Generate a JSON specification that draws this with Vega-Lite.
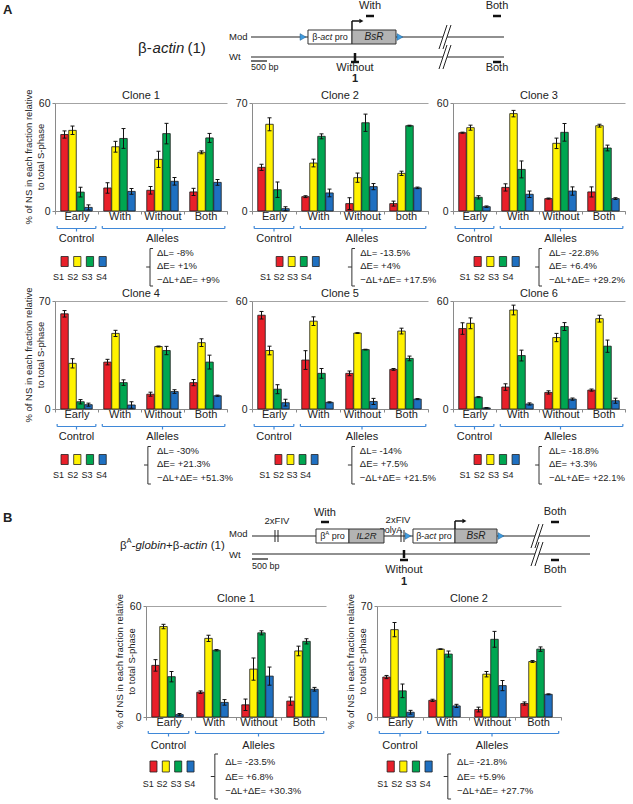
{
"$schema":"https://vega.github.io/schema/vega-lite/v6.json",
"padding":0,
"background":"white",
"config":{
 "font":"Liberation Sans",
 "view":{"stroke":null},
 "axis":{"labelFont":"Liberation Sans","titleFont":"Liberation Sans","labelFontSize":10.5,"titleFontSize":10.5,"titleFontWeight":"normal","labelColor":"#222222","titleColor":"#222222","domainColor":"#8a8a8a","tickColor":"#8a8a8a","gridColor":"#a3a3a3","tickSize":3,"labelPadding":2,"titlePadding":4},
 "title":{"font":"Liberation Sans","fontSize":11,"fontWeight":"normal","offset":-3,"color":"#222222","frame":"group"},
 "text":{"font":"Liberation Sans","color":"#222222"},
 "rule":{"color":"#3f88d8"}
},
"datasets":{
 "bars":[
{"clone":"A1","group":"Early","phase":"S1","value":42.5,"lo":40.5,"hi":44.5},
{"clone":"A1","group":"Early","phase":"S2","value":44.8,"lo":42.5,"hi":47.2},
{"clone":"A1","group":"Early","phase":"S3","value":10.5,"lo":7.8,"hi":13.2},
{"clone":"A1","group":"Early","phase":"S4","value":2,"lo":0.6,"hi":3.4},
{"clone":"A1","group":"With","phase":"S1","value":12.8,"lo":9.9,"hi":15.7},
{"clone":"A1","group":"With","phase":"S2","value":35.7,"lo":32.7,"hi":38.7},
{"clone":"A1","group":"With","phase":"S3","value":40.3,"lo":34.8,"hi":45.8},
{"clone":"A1","group":"With","phase":"S4","value":10.9,"lo":9.3,"hi":12.5},
{"clone":"A1","group":"Without","phase":"S1","value":11.5,"lo":9.4,"hi":13.6},
{"clone":"A1","group":"Without","phase":"S2","value":28.7,"lo":24.2,"hi":33.2},
{"clone":"A1","group":"Without","phase":"S3","value":43,"lo":37.3,"hi":48.7},
{"clone":"A1","group":"Without","phase":"S4","value":16.5,"lo":14.4,"hi":18.6},
{"clone":"A1","group":"Both","phase":"S1","value":10.6,"lo":8.6,"hi":12.6},
{"clone":"A1","group":"Both","phase":"S2","value":32.6,"lo":31.8,"hi":33.4},
{"clone":"A1","group":"Both","phase":"S3","value":40.6,"lo":38.1,"hi":43.1},
{"clone":"A1","group":"Both","phase":"S4","value":15.9,"lo":14.3,"hi":17.5},
{"clone":"A2","group":"Early","phase":"S1","value":28.3,"lo":26.3,"hi":30.3},
{"clone":"A2","group":"Early","phase":"S2","value":56.2,"lo":52,"hi":60.4},
{"clone":"A2","group":"Early","phase":"S3","value":13.8,"lo":8.8,"hi":18.8},
{"clone":"A2","group":"Early","phase":"S4","value":1.5,"lo":0.2,"hi":2.8},
{"clone":"A2","group":"With","phase":"S1","value":9.3,"lo":8.7,"hi":9.9},
{"clone":"A2","group":"With","phase":"S2","value":31.1,"lo":28.6,"hi":33.6},
{"clone":"A2","group":"With","phase":"S3","value":48.4,"lo":46.8,"hi":50},
{"clone":"A2","group":"With","phase":"S4","value":11.7,"lo":9.2,"hi":14.2},
{"clone":"A2","group":"Without","phase":"S1","value":4.8,"lo":1,"hi":8.6},
{"clone":"A2","group":"Without","phase":"S2","value":21.6,"lo":18.6,"hi":24.6},
{"clone":"A2","group":"Without","phase":"S3","value":57.2,"lo":51.6,"hi":62.8},
{"clone":"A2","group":"Without","phase":"S4","value":15.8,"lo":13.8,"hi":17.8},
{"clone":"A2","group":"both","phase":"S1","value":4.8,"lo":3.2,"hi":6.4},
{"clone":"A2","group":"both","phase":"S2","value":24.4,"lo":23,"hi":25.8},
{"clone":"A2","group":"both","phase":"S3","value":55.3,"lo":55,"hi":55.6},
{"clone":"A2","group":"both","phase":"S4","value":15,"lo":14.5,"hi":15.5},
{"clone":"A3","group":"Early","phase":"S1","value":43.5,"lo":43.2,"hi":43.8},
{"clone":"A3","group":"Early","phase":"S2","value":46.3,"lo":44.9,"hi":47.7},
{"clone":"A3","group":"Early","phase":"S3","value":7.6,"lo":6.7,"hi":8.5},
{"clone":"A3","group":"Early","phase":"S4","value":2.4,"lo":2,"hi":2.8},
{"clone":"A3","group":"With","phase":"S1","value":13.1,"lo":11.1,"hi":15.1},
{"clone":"A3","group":"With","phase":"S2","value":54.1,"lo":52.3,"hi":55.9},
{"clone":"A3","group":"With","phase":"S3","value":23.1,"lo":18.4,"hi":27.8},
{"clone":"A3","group":"With","phase":"S4","value":9.3,"lo":7.5,"hi":11.1},
{"clone":"A3","group":"Without","phase":"S1","value":6.9,"lo":6.6,"hi":7.2},
{"clone":"A3","group":"Without","phase":"S2","value":37.6,"lo":34.7,"hi":40.5},
{"clone":"A3","group":"Without","phase":"S3","value":43.7,"lo":38.8,"hi":48.6},
{"clone":"A3","group":"Without","phase":"S4","value":11.1,"lo":8.8,"hi":13.4},
{"clone":"A3","group":"Both","phase":"S1","value":10.6,"lo":7.8,"hi":13.4},
{"clone":"A3","group":"Both","phase":"S2","value":47.4,"lo":46.6,"hi":48.2},
{"clone":"A3","group":"Both","phase":"S3","value":35,"lo":33.4,"hi":36.6},
{"clone":"A3","group":"Both","phase":"S4","value":6.9,"lo":6.4,"hi":7.4},
{"clone":"A4","group":"Early","phase":"S1","value":61.7,"lo":59.6,"hi":63.8},
{"clone":"A4","group":"Early","phase":"S2","value":29.6,"lo":26.6,"hi":32.6},
{"clone":"A4","group":"Early","phase":"S3","value":4.7,"lo":3.3,"hi":6.1},
{"clone":"A4","group":"Early","phase":"S4","value":2.8,"lo":1.8,"hi":3.8},
{"clone":"A4","group":"With","phase":"S1","value":30.4,"lo":28.6,"hi":32.2},
{"clone":"A4","group":"With","phase":"S2","value":49,"lo":47,"hi":51},
{"clone":"A4","group":"With","phase":"S3","value":17.1,"lo":15.3,"hi":18.9},
{"clone":"A4","group":"With","phase":"S4","value":2.6,"lo":0.5,"hi":4.7},
{"clone":"A4","group":"Without","phase":"S1","value":9.6,"lo":8.3,"hi":10.9},
{"clone":"A4","group":"Without","phase":"S2","value":40.5,"lo":40.2,"hi":40.8},
{"clone":"A4","group":"Without","phase":"S3","value":37.9,"lo":35.2,"hi":40.6},
{"clone":"A4","group":"Without","phase":"S4","value":11.3,"lo":10.1,"hi":12.5},
{"clone":"A4","group":"Both","phase":"S1","value":17.1,"lo":15.1,"hi":19.1},
{"clone":"A4","group":"Both","phase":"S2","value":43,"lo":40.5,"hi":45.5},
{"clone":"A4","group":"Both","phase":"S3","value":30.4,"lo":25.9,"hi":34.9},
{"clone":"A4","group":"Both","phase":"S4","value":8.6,"lo":8.2,"hi":9},
{"clone":"A5","group":"Early","phase":"S1","value":52.1,"lo":50,"hi":54.2},
{"clone":"A5","group":"Early","phase":"S2","value":32.5,"lo":30.1,"hi":34.9},
{"clone":"A5","group":"Early","phase":"S3","value":11,"lo":8.5,"hi":13.5},
{"clone":"A5","group":"Early","phase":"S4","value":3.5,"lo":1.6,"hi":5.4},
{"clone":"A5","group":"With","phase":"S1","value":27.2,"lo":22,"hi":32.4},
{"clone":"A5","group":"With","phase":"S2","value":48.8,"lo":46.4,"hi":51.2},
{"clone":"A5","group":"With","phase":"S3","value":19.8,"lo":17.1,"hi":22.5},
{"clone":"A5","group":"With","phase":"S4","value":3.7,"lo":3.4,"hi":4},
{"clone":"A5","group":"Without","phase":"S1","value":19.8,"lo":18.5,"hi":21.1},
{"clone":"A5","group":"Without","phase":"S2","value":42.2,"lo":42,"hi":42.4},
{"clone":"A5","group":"Without","phase":"S3","value":33,"lo":32.8,"hi":33.2},
{"clone":"A5","group":"Without","phase":"S4","value":4.2,"lo":2.5,"hi":5.9},
{"clone":"A5","group":"Both","phase":"S1","value":22,"lo":21.5,"hi":22.5},
{"clone":"A5","group":"Both","phase":"S2","value":43.3,"lo":41.7,"hi":44.9},
{"clone":"A5","group":"Both","phase":"S3","value":28.1,"lo":26.8,"hi":29.4},
{"clone":"A5","group":"Both","phase":"S4","value":5.5,"lo":5.2,"hi":5.8},
{"clone":"A6","group":"Early","phase":"S1","value":44.7,"lo":41.5,"hi":47.9},
{"clone":"A6","group":"Early","phase":"S2","value":47.6,"lo":44.6,"hi":50.6},
{"clone":"A6","group":"Early","phase":"S3","value":6.6,"lo":6.3,"hi":6.9},
{"clone":"A6","group":"Early","phase":"S4","value":0.6,"lo":0.4,"hi":0.8},
{"clone":"A6","group":"With","phase":"S1","value":12.2,"lo":10.4,"hi":14},
{"clone":"A6","group":"With","phase":"S2","value":55,"lo":52.3,"hi":57.7},
{"clone":"A6","group":"With","phase":"S3","value":29.7,"lo":26.7,"hi":32.7},
{"clone":"A6","group":"With","phase":"S4","value":2.8,"lo":2.2,"hi":3.4},
{"clone":"A6","group":"Without","phase":"S1","value":9.2,"lo":8.3,"hi":10.1},
{"clone":"A6","group":"Without","phase":"S2","value":39.7,"lo":37.4,"hi":42},
{"clone":"A6","group":"Without","phase":"S3","value":45.8,"lo":43.6,"hi":48},
{"clone":"A6","group":"Without","phase":"S4","value":5.5,"lo":4.9,"hi":6.1},
{"clone":"A6","group":"Both","phase":"S1","value":10.5,"lo":9.9,"hi":11.1},
{"clone":"A6","group":"Both","phase":"S2","value":50.2,"lo":48.3,"hi":52.1},
{"clone":"A6","group":"Both","phase":"S3","value":34.9,"lo":31.5,"hi":38.3},
{"clone":"A6","group":"Both","phase":"S4","value":4.6,"lo":3.2,"hi":6},
{"clone":"B1","group":"Early","phase":"S1","value":27.9,"lo":24.8,"hi":31},
{"clone":"B1","group":"Early","phase":"S2","value":48.9,"lo":47.7,"hi":50.1},
{"clone":"B1","group":"Early","phase":"S3","value":21.8,"lo":19,"hi":24.6},
{"clone":"B1","group":"Early","phase":"S4","value":1.3,"lo":0.7,"hi":1.9},
{"clone":"B1","group":"With","phase":"S1","value":13.4,"lo":12.7,"hi":14.1},
{"clone":"B1","group":"With","phase":"S2","value":42.5,"lo":40.8,"hi":44.2},
{"clone":"B1","group":"With","phase":"S3","value":36.1,"lo":35.7,"hi":36.5},
{"clone":"B1","group":"With","phase":"S4","value":7.9,"lo":6.4,"hi":9.4},
{"clone":"B1","group":"Without","phase":"S1","value":6.6,"lo":3.5,"hi":9.7},
{"clone":"B1","group":"Without","phase":"S2","value":25.9,"lo":19.9,"hi":31.9},
{"clone":"B1","group":"Without","phase":"S3","value":45.5,"lo":44.4,"hi":46.6},
{"clone":"B1","group":"Without","phase":"S4","value":22.1,"lo":17.2,"hi":27},
{"clone":"B1","group":"Both","phase":"S1","value":8.6,"lo":6.4,"hi":10.8},
{"clone":"B1","group":"Both","phase":"S2","value":35.7,"lo":33.1,"hi":38.3},
{"clone":"B1","group":"Both","phase":"S3","value":40.9,"lo":39.5,"hi":42.3},
{"clone":"B1","group":"Both","phase":"S4","value":15,"lo":14,"hi":16},
{"clone":"B2","group":"Early","phase":"S1","value":25.2,"lo":24.2,"hi":26.2},
{"clone":"B2","group":"Early","phase":"S2","value":55.1,"lo":50.6,"hi":59.6},
{"clone":"B2","group":"Early","phase":"S3","value":16.5,"lo":12.2,"hi":20.8},
{"clone":"B2","group":"Early","phase":"S4","value":3,"lo":1.8,"hi":4.2},
{"clone":"B2","group":"With","phase":"S1","value":10.5,"lo":9.8,"hi":11.2},
{"clone":"B2","group":"With","phase":"S2","value":42.8,"lo":42.6,"hi":43},
{"clone":"B2","group":"With","phase":"S3","value":39.7,"lo":37.8,"hi":41.6},
{"clone":"B2","group":"With","phase":"S4","value":7,"lo":6,"hi":8},
{"clone":"B2","group":"Without","phase":"S1","value":4.7,"lo":3.2,"hi":6.2},
{"clone":"B2","group":"Without","phase":"S2","value":27,"lo":25.3,"hi":28.7},
{"clone":"B2","group":"Without","phase":"S3","value":49,"lo":44,"hi":54},
{"clone":"B2","group":"Without","phase":"S4","value":19.8,"lo":16.6,"hi":23},
{"clone":"B2","group":"Both","phase":"S1","value":8.5,"lo":7.5,"hi":9.5},
{"clone":"B2","group":"Both","phase":"S2","value":35,"lo":34.4,"hi":35.6},
{"clone":"B2","group":"Both","phase":"S3","value":42.8,"lo":41.4,"hi":44.2},
{"clone":"B2","group":"Both","phase":"S4","value":14.3,"lo":14,"hi":14.6}
 ],
 "deltas":[
{"clone":"A1","L":"ΔL= -8%","E":"ΔE= +1%","LE":"−ΔL+ΔE= +9%"},
{"clone":"A2","L":"ΔL= -13.5%","E":"ΔE= +4%","LE":"−ΔL+ΔE= +17.5%"},
{"clone":"A3","L":"ΔL= -22.8%","E":"ΔE= +6.4%","LE":"−ΔL+ΔE= +29.2%"},
{"clone":"A4","L":"ΔL= -30%","E":"ΔE= +21.3%","LE":"−ΔL+ΔE= +51.3%"},
{"clone":"A5","L":"ΔL= -14%","E":"ΔE= +7.5%","LE":"−ΔL+ΔE= +21.5%"},
{"clone":"A6","L":"ΔL= -18.8%","E":"ΔE= +3.3%","LE":"−ΔL+ΔE= +22.1%"},
{"clone":"B1","L":"ΔL= -23.5%","E":"ΔE= +6.8%","LE":"−ΔL+ΔE= +30.3%"},
{"clone":"B2","L":"ΔL= -21.8%","E":"ΔE= +5.9%","LE":"−ΔL+ΔE= +27.7%"}
 ],
 "brackets":[{"label":"Control","start":0.05,"end":0.95,"mid":0.5},{"label":"Alleles","start":1.1,"end":3.95,"mid":2.5}],
 "phases":[{"phase":"S1"},{"phase":"S2"},{"phase":"S3"},{"phase":"S4"}]
},
"spacing":0,
"vconcat":[
{"width":633,"height":88.5,"data":{"values":[{"panel":"A"}]},"layer":[
{"mark":{"type":"text","text":"A","fontSize":13,"fontWeight":"bold","align":"left"},"encoding":{"x":{"datum":-7750,"type":"quantitative","scale":{"domain":[-7844,11938]},"axis":null},"y":{"datum":10,"type":"quantitative","scale":{"domain":[0,88.5],"reverse":true},"axis":null}}},
{"mark":{"type":"text","text":"β-","fontSize":15,"align":"left"},"encoding":{"x":{"datum":-3531,"type":"quantitative","scale":{"domain":[-7844,11938]},"axis":null},"y":{"datum":48,"type":"quantitative","scale":{"domain":[0,88.5],"reverse":true},"axis":null}}},
{"mark":{"type":"text","text":"actin","fontSize":15,"fontStyle":"italic","align":"left"},"encoding":{"x":{"datum":-3075,"type":"quantitative","scale":{"domain":[-7844,11938]},"axis":null},"y":{"datum":48,"type":"quantitative","scale":{"domain":[0,88.5],"reverse":true},"axis":null}}},
{"mark":{"type":"text","text":"(1)","fontSize":15,"align":"left"},"encoding":{"x":{"datum":-1984,"type":"quantitative","scale":{"domain":[-7844,11938]},"axis":null},"y":{"datum":48,"type":"quantitative","scale":{"domain":[0,88.5],"reverse":true},"axis":null}}},
{"mark":{"type":"text","text":"Mod","fontSize":9.5,"align":"left"},"encoding":{"x":{"datum":-687,"type":"quantitative","scale":{"domain":[-7844,11938]},"axis":null},"y":{"datum":37,"type":"quantitative","scale":{"domain":[0,88.5],"reverse":true},"axis":null}}},
{"mark":{"type":"text","text":"Wt","fontSize":9.5,"align":"left"},"encoding":{"x":{"datum":-687,"type":"quantitative","scale":{"domain":[-7844,11938]},"axis":null},"y":{"datum":57,"type":"quantitative","scale":{"domain":[0,88.5],"reverse":true},"axis":null}}},
{"mark":{"type":"rule","color":"#222222","strokeWidth":1.2},"encoding":{"x":{"datum":0,"type":"quantitative","scale":{"domain":[-7844,11938]},"axis":null},"x2":{"datum":7906},"y":{"datum":37,"type":"quantitative","scale":{"domain":[0,88.5],"reverse":true},"axis":null}}},
{"mark":{"type":"rule","color":"#222222","strokeWidth":1.2},"encoding":{"x":{"datum":0,"type":"quantitative","scale":{"domain":[-7844,11938]},"axis":null},"x2":{"datum":7906},"y":{"datum":57,"type":"quantitative","scale":{"domain":[0,88.5],"reverse":true},"axis":null}}},
{"mark":{"type":"rect","fill":"white"},"encoding":{"x":{"datum":6000,"type":"quantitative","scale":{"domain":[-7844,11938]},"axis":null},"x2":{"datum":6125},"y":{"datum":30,"type":"quantitative","scale":{"domain":[0,88.5],"reverse":true},"axis":null},"y2":{"datum":64}}},
{"mark":{"type":"rule","color":"#222222","strokeWidth":1},"encoding":{"x":{"datum":5875,"type":"quantitative","scale":{"domain":[-7844,11938]},"axis":null},"x2":{"datum":6125},"y":{"datum":49,"type":"quantitative","scale":{"domain":[0,88.5],"reverse":true},"axis":null},"y2":{"datum":25}}},
{"mark":{"type":"rule","color":"#222222","strokeWidth":1},"encoding":{"x":{"datum":6000,"type":"quantitative","scale":{"domain":[-7844,11938]},"axis":null},"x2":{"datum":6250},"y":{"datum":49,"type":"quantitative","scale":{"domain":[0,88.5],"reverse":true},"axis":null},"y2":{"datum":25}}},
{"mark":{"type":"rule","color":"#222222","strokeWidth":1},"encoding":{"x":{"datum":5875,"type":"quantitative","scale":{"domain":[-7844,11938]},"axis":null},"x2":{"datum":6125},"y":{"datum":69,"type":"quantitative","scale":{"domain":[0,88.5],"reverse":true},"axis":null},"y2":{"datum":45}}},
{"mark":{"type":"rule","color":"#222222","strokeWidth":1},"encoding":{"x":{"datum":6000,"type":"quantitative","scale":{"domain":[-7844,11938]},"axis":null},"x2":{"datum":6250},"y":{"datum":69,"type":"quantitative","scale":{"domain":[0,88.5],"reverse":true},"axis":null},"y2":{"datum":45}}},
{"mark":{"type":"rect","fill":"white","stroke":"#333333","strokeWidth":1},"encoding":{"x":{"datum":1781,"type":"quantitative","scale":{"domain":[-7844,11938]},"axis":null},"x2":{"datum":3156},"y":{"datum":30,"type":"quantitative","scale":{"domain":[0,88.5],"reverse":true},"axis":null},"y2":{"datum":44}}},
{"mark":{"type":"rect","fill":"#b3b3b3","stroke":"#333333","strokeWidth":1},"encoding":{"x":{"datum":3156,"type":"quantitative","scale":{"domain":[-7844,11938]},"axis":null},"x2":{"datum":4531},"y":{"datum":30,"type":"quantitative","scale":{"domain":[0,88.5],"reverse":true},"axis":null},"y2":{"datum":44}}},
{"mark":{"type":"text","text":"β-","fontSize":9,"align":"left"},"encoding":{"x":{"datum":1913,"type":"quantitative","scale":{"domain":[-7844,11938]},"axis":null},"y":{"datum":37,"type":"quantitative","scale":{"domain":[0,88.5],"reverse":true},"axis":null}}},
{"mark":{"type":"text","text":"act","fontSize":9,"fontStyle":"italic","align":"left"},"encoding":{"x":{"datum":2166,"type":"quantitative","scale":{"domain":[-7844,11938]},"axis":null},"y":{"datum":37,"type":"quantitative","scale":{"domain":[0,88.5],"reverse":true},"axis":null}}},
{"mark":{"type":"text","text":"pro","fontSize":9,"align":"left"},"encoding":{"x":{"datum":2619,"type":"quantitative","scale":{"domain":[-7844,11938]},"axis":null},"y":{"datum":37,"type":"quantitative","scale":{"domain":[0,88.5],"reverse":true},"axis":null}}},
{"mark":{"type":"text","text":"BsR","fontSize":10,"fontStyle":"italic","align":"center"},"encoding":{"x":{"datum":3844,"type":"quantitative","scale":{"domain":[-7844,11938]},"axis":null},"y":{"datum":37,"type":"quantitative","scale":{"domain":[0,88.5],"reverse":true},"axis":null}}},
{"mark":{"type":"point","shape":"triangle-right","filled":true,"fill":"#3d9be0","stroke":"#1d5a8c","strokeWidth":0.5,"size":45,"opacity":1},"encoding":{"x":{"datum":1625,"type":"quantitative","scale":{"domain":[-7844,11938]},"axis":null},"y":{"datum":37,"type":"quantitative","scale":{"domain":[0,88.5],"reverse":true},"axis":null}}},
{"mark":{"type":"point","shape":"triangle-right","filled":true,"fill":"#3d9be0","stroke":"#1d5a8c","strokeWidth":0.5,"size":45,"opacity":1},"encoding":{"x":{"datum":4656,"type":"quantitative","scale":{"domain":[-7844,11938]},"axis":null},"y":{"datum":37,"type":"quantitative","scale":{"domain":[0,88.5],"reverse":true},"axis":null}}},
{"mark":{"type":"rule","color":"#111111","strokeWidth":1.5},"encoding":{"x":{"datum":3156,"type":"quantitative","scale":{"domain":[-7844,11938]},"axis":null},"y":{"datum":30,"type":"quantitative","scale":{"domain":[0,88.5],"reverse":true},"axis":null},"y2":{"datum":21}}},
{"mark":{"type":"rule","color":"#111111","strokeWidth":1.5},"encoding":{"x":{"datum":3156,"type":"quantitative","scale":{"domain":[-7844,11938]},"axis":null},"x2":{"datum":3400},"y":{"datum":21,"type":"quantitative","scale":{"domain":[0,88.5],"reverse":true},"axis":null}}},
{"mark":{"type":"point","shape":"triangle-right","filled":true,"fill":"#111111","size":22,"opacity":1},"encoding":{"x":{"datum":3450,"type":"quantitative","scale":{"domain":[-7844,11938]},"axis":null},"y":{"datum":21,"type":"quantitative","scale":{"domain":[0,88.5],"reverse":true},"axis":null}}},
{"mark":{"type":"text","text":"With","fontSize":11,"align":"center"},"encoding":{"x":{"datum":3719,"type":"quantitative","scale":{"domain":[-7844,11938]},"axis":null},"y":{"datum":6,"type":"quantitative","scale":{"domain":[0,88.5],"reverse":true},"axis":null}}},
{"mark":{"type":"rule","color":"#111111","strokeWidth":2.5},"encoding":{"x":{"datum":3594,"type":"quantitative","scale":{"domain":[-7844,11938]},"axis":null},"x2":{"datum":3844},"y":{"datum":16,"type":"quantitative","scale":{"domain":[0,88.5],"reverse":true},"axis":null}}},
{"mark":{"type":"text","text":"Both","fontSize":11,"align":"center"},"encoding":{"x":{"datum":7687,"type":"quantitative","scale":{"domain":[-7844,11938]},"axis":null},"y":{"datum":6,"type":"quantitative","scale":{"domain":[0,88.5],"reverse":true},"axis":null}}},
{"mark":{"type":"rule","color":"#111111","strokeWidth":2.5},"encoding":{"x":{"datum":7562,"type":"quantitative","scale":{"domain":[-7844,11938]},"axis":null},"x2":{"datum":7812},"y":{"datum":16,"type":"quantitative","scale":{"domain":[0,88.5],"reverse":true},"axis":null}}},
{"mark":{"type":"rule","color":"#111111","strokeWidth":2.5},"encoding":{"x":{"datum":3250,"type":"quantitative","scale":{"domain":[-7844,11938]},"axis":null},"y":{"datum":53,"type":"quantitative","scale":{"domain":[0,88.5],"reverse":true},"axis":null},"y2":{"datum":61}}},
{"mark":{"type":"rule","color":"#111111","strokeWidth":2.5},"encoding":{"x":{"datum":3125,"type":"quantitative","scale":{"domain":[-7844,11938]},"axis":null},"x2":{"datum":3375},"y":{"datum":62,"type":"quantitative","scale":{"domain":[0,88.5],"reverse":true},"axis":null}}},
{"mark":{"type":"text","text":"Without","fontSize":11,"align":"center"},"encoding":{"x":{"datum":3250,"type":"quantitative","scale":{"domain":[-7844,11938]},"axis":null},"y":{"datum":68,"type":"quantitative","scale":{"domain":[0,88.5],"reverse":true},"axis":null}}},
{"mark":{"type":"text","text":"1","fontSize":11,"fontWeight":"bold","align":"center"},"encoding":{"x":{"datum":3250,"type":"quantitative","scale":{"domain":[-7844,11938]},"axis":null},"y":{"datum":79,"type":"quantitative","scale":{"domain":[0,88.5],"reverse":true},"axis":null}}},
{"mark":{"type":"rule","color":"#111111","strokeWidth":2.5},"encoding":{"x":{"datum":7562,"type":"quantitative","scale":{"domain":[-7844,11938]},"axis":null},"x2":{"datum":7812},"y":{"datum":62,"type":"quantitative","scale":{"domain":[0,88.5],"reverse":true},"axis":null}}},
{"mark":{"type":"text","text":"Both","fontSize":11,"align":"center"},"encoding":{"x":{"datum":7687,"type":"quantitative","scale":{"domain":[-7844,11938]},"axis":null},"y":{"datum":68,"type":"quantitative","scale":{"domain":[0,88.5],"reverse":true},"axis":null}}},
{"mark":{"type":"rule","color":"#111111","strokeWidth":1.2},"encoding":{"x":{"datum":0,"type":"quantitative","scale":{"domain":[-7844,11938]},"axis":null},"x2":{"datum":500},"y":{"datum":61,"type":"quantitative","scale":{"domain":[0,88.5],"reverse":true},"axis":null}}},
{"mark":{"type":"text","text":"500 bp","fontSize":9,"align":"left"},"encoding":{"x":{"datum":0,"type":"quantitative","scale":{"domain":[-7844,11938]},"axis":null},"y":{"datum":67,"type":"quantitative","scale":{"domain":[0,88.5],"reverse":true},"axis":null}}}
]},
{"bounds":"flush","spacing":25,"hconcat":[
{"width":30,"height":108,"data":{"values":[{"axis":"y"}]},"mark":{"type":"text","angle":270,"fontSize":9.5,"lineHeight":12.5,"align":"center","baseline":"middle","text":["% of NS in each fraction relative","to total S-phase"]},"encoding":{"x":{"datum":28.5,"type":"quantitative","scale":{"domain":[0,30]},"axis":null},"y":{"datum":54,"type":"quantitative","scale":{"domain":[0,108]},"axis":null}}},
{"title":"Clone 1","width":172,"height":108,"data":{"name":"bars"},"transform":[{"filter":"datum.clone == 'A1'"}],
"encoding":{"x":{"field":"group","type":"nominal","sort":["Early","With","Without","Both"],"scale":{"paddingInner":0,"paddingOuter":0},"axis":{"title":null,"labelAngle":0,"tickBand":"extent","labelPadding":-4,"labelFontSize":11}},"xOffset":{"field":"phase","type":"nominal","sort":["S1","S2","S3","S4"],"scale":{"paddingInner":0.06,"paddingOuter":0.72}}},
"layer":[
{"mark":{"type":"bar","stroke":"#1a1a1a","strokeWidth":0.8},"encoding":{"y":{"field":"value","type":"quantitative","scale":{"domain":[0,60]},"axis":{"title":null,"values":[0,10,20,30,40,50,60]}},"color":{"field":"phase","type":"nominal","scale":{"domain":["S1","S2","S3","S4"],"range":["#e8202a","#fff200","#00a651","#1f70c1"]},"legend":null}}},
{"mark":{"type":"rule","color":"#111111","strokeWidth":1},"encoding":{"y":{"field":"lo","type":"quantitative","scale":{"domain":[0,60]}},"y2":{"field":"hi"}}},
{"mark":{"type":"tick","color":"#111111","thickness":1,"size":4,"opacity":1},"encoding":{"y":{"field":"lo","type":"quantitative","scale":{"domain":[0,60]}}}},
{"mark":{"type":"tick","color":"#111111","thickness":1,"size":4,"opacity":1},"encoding":{"y":{"field":"hi","type":"quantitative","scale":{"domain":[0,60]}}}}
]},
{"title":"Clone 2","width":176,"height":108,"data":{"name":"bars"},"transform":[{"filter":"datum.clone == 'A2'"}],
"encoding":{"x":{"field":"group","type":"nominal","sort":["Early","With","Without","both"],"scale":{"paddingInner":0,"paddingOuter":0},"axis":{"title":null,"labelAngle":0,"tickBand":"extent","labelPadding":-4,"labelFontSize":11}},"xOffset":{"field":"phase","type":"nominal","sort":["S1","S2","S3","S4"],"scale":{"paddingInner":0.06,"paddingOuter":0.72}}},
"layer":[
{"mark":{"type":"bar","stroke":"#1a1a1a","strokeWidth":0.8},"encoding":{"y":{"field":"value","type":"quantitative","scale":{"domain":[0,70]},"axis":{"title":null,"values":[0,10,20,30,40,50,60,70]}},"color":{"field":"phase","type":"nominal","scale":{"domain":["S1","S2","S3","S4"],"range":["#e8202a","#fff200","#00a651","#1f70c1"]},"legend":null}}},
{"mark":{"type":"rule","color":"#111111","strokeWidth":1},"encoding":{"y":{"field":"lo","type":"quantitative","scale":{"domain":[0,70]}},"y2":{"field":"hi"}}},
{"mark":{"type":"tick","color":"#111111","thickness":1,"size":4,"opacity":1},"encoding":{"y":{"field":"lo","type":"quantitative","scale":{"domain":[0,70]}}}},
{"mark":{"type":"tick","color":"#111111","thickness":1,"size":4,"opacity":1},"encoding":{"y":{"field":"hi","type":"quantitative","scale":{"domain":[0,70]}}}}
]},
{"title":"Clone 3","width":172,"height":108,"data":{"name":"bars"},"transform":[{"filter":"datum.clone == 'A3'"}],
"encoding":{"x":{"field":"group","type":"nominal","sort":["Early","With","Without","Both"],"scale":{"paddingInner":0,"paddingOuter":0},"axis":{"title":null,"labelAngle":0,"tickBand":"extent","labelPadding":-4,"labelFontSize":11}},"xOffset":{"field":"phase","type":"nominal","sort":["S1","S2","S3","S4"],"scale":{"paddingInner":0.06,"paddingOuter":0.72}}},
"layer":[
{"mark":{"type":"bar","stroke":"#1a1a1a","strokeWidth":0.8},"encoding":{"y":{"field":"value","type":"quantitative","scale":{"domain":[0,60]},"axis":{"title":null,"values":[0,10,20,30,40,50,60]}},"color":{"field":"phase","type":"nominal","scale":{"domain":["S1","S2","S3","S4"],"range":["#e8202a","#fff200","#00a651","#1f70c1"]},"legend":null}}},
{"mark":{"type":"rule","color":"#111111","strokeWidth":1},"encoding":{"y":{"field":"lo","type":"quantitative","scale":{"domain":[0,60]}},"y2":{"field":"hi"}}},
{"mark":{"type":"tick","color":"#111111","thickness":1,"size":4,"opacity":1},"encoding":{"y":{"field":"lo","type":"quantitative","scale":{"domain":[0,60]}}}},
{"mark":{"type":"tick","color":"#111111","thickness":1,"size":4,"opacity":1},"encoding":{"y":{"field":"hi","type":"quantitative","scale":{"domain":[0,60]}}}}
]}
]},
{"bounds":"flush","spacing":25,"hconcat":[
{"width":30,"height":60,"data":{"values":[{"blank":1}]},"mark":{"type":"point","opacity":0}},
{"width":172,"height":60,"data":{"name":"deltas"},"transform":[{"filter":"datum.clone == 'A1'"}],"resolve":{"scale":{"x":"independent"}},"layer":[
{"data":{"name":"brackets"},"mark":{"type":"rule","strokeWidth":1.2},"encoding":{"x":{"field":"start","type":"quantitative","scale":{"domain":[0,4]},"axis":null},"x2":{"field":"end"},"y":{"datum":2.5,"type":"quantitative","scale":{"domain":[0,60],"reverse":true},"axis":null}}},
{"data":{"name":"brackets"},"mark":{"type":"rule","strokeWidth":1.2},"encoding":{"x":{"field":"start","type":"quantitative","scale":{"domain":[0,4]},"axis":null},"y":{"datum":0,"type":"quantitative","scale":{"domain":[0,60],"reverse":true},"axis":null},"y2":{"datum":2.5}}},
{"data":{"name":"brackets"},"mark":{"type":"rule","strokeWidth":1.2},"encoding":{"x":{"field":"end","type":"quantitative","scale":{"domain":[0,4]},"axis":null},"y":{"datum":0,"type":"quantitative","scale":{"domain":[0,60],"reverse":true},"axis":null},"y2":{"datum":2.5}}},
{"data":{"name":"brackets"},"mark":{"type":"rule","strokeWidth":1.2},"encoding":{"x":{"field":"mid","type":"quantitative","scale":{"domain":[0,4]},"axis":null},"y":{"datum":2.5,"type":"quantitative","scale":{"domain":[0,60],"reverse":true},"axis":null},"y2":{"datum":5.5}}},
{"data":{"name":"brackets"},"mark":{"type":"text","fontSize":11},"encoding":{"x":{"field":"mid","type":"quantitative","scale":{"domain":[0,4]},"axis":null},"y":{"datum":12.5,"type":"quantitative","scale":{"domain":[0,60],"reverse":true},"axis":null},"text":{"field":"label"}}},
{"data":{"name":"phases"},"mark":{"type":"bar","stroke":"#222222","strokeWidth":0.8},"encoding":{"x":{"field":"phase","type":"nominal","scale":{"domain":["S1","S2","S3","S4","_5","_6","_7","_8","_9","_10","_11","_12"],"paddingInner":0.43,"paddingOuter":1,"align":0.237},"axis":null},"y":{"datum":30.5,"type":"quantitative","scale":{"domain":[0,60],"reverse":true},"axis":null},"y2":{"datum":40.5},"color":{"field":"phase","type":"nominal","legend":null}}},
{"data":{"name":"phases"},"mark":{"type":"text","fontSize":9},"encoding":{"x":{"field":"phase","type":"nominal","scale":{"domain":["S1","S2","S3","S4","_5","_6","_7","_8","_9","_10","_11","_12"],"paddingInner":0.43,"paddingOuter":1,"align":0.237},"axis":null},"y":{"datum":50.5,"type":"quantitative","scale":{"domain":[0,60],"reverse":true},"axis":null},"text":{"field":"phase"}}},
{"mark":{"type":"rule","color":"#333333"},"encoding":{"x":{"datum":2.21,"type":"quantitative","scale":{"domain":[0,4]},"axis":null},"y":{"datum":22.5,"type":"quantitative","scale":{"domain":[0,60],"reverse":true},"axis":null},"y2":{"datum":60}}},
{"mark":{"type":"rule","color":"#333333"},"encoding":{"x":{"datum":2.21,"type":"quantitative","scale":{"domain":[0,4]},"axis":null},"x2":{"datum":2.28},"y":{"datum":22.5,"type":"quantitative","scale":{"domain":[0,60],"reverse":true},"axis":null}}},
{"mark":{"type":"rule","color":"#333333"},"encoding":{"x":{"datum":2.21,"type":"quantitative","scale":{"domain":[0,4]},"axis":null},"x2":{"datum":2.28},"y":{"datum":60,"type":"quantitative","scale":{"domain":[0,60],"reverse":true},"axis":null}}},
{"mark":{"type":"rule","color":"#333333"},"encoding":{"x":{"datum":2.12,"type":"quantitative","scale":{"domain":[0,4]},"axis":null},"x2":{"datum":2.21},"y":{"datum":41,"type":"quantitative","scale":{"domain":[0,60],"reverse":true},"axis":null}}},
{"mark":{"type":"text","align":"left","fontSize":9.5},"encoding":{"x":{"datum":2.37,"type":"quantitative","scale":{"domain":[0,4]},"axis":null},"y":{"datum":26.5,"type":"quantitative","scale":{"domain":[0,60],"reverse":true},"axis":null},"text":{"field":"L"}}},
{"mark":{"type":"text","align":"left","fontSize":9.5},"encoding":{"x":{"datum":2.37,"type":"quantitative","scale":{"domain":[0,4]},"axis":null},"y":{"datum":40,"type":"quantitative","scale":{"domain":[0,60],"reverse":true},"axis":null},"text":{"field":"E"}}},
{"mark":{"type":"text","align":"left","fontSize":9.5},"encoding":{"x":{"datum":2.37,"type":"quantitative","scale":{"domain":[0,4]},"axis":null},"y":{"datum":54,"type":"quantitative","scale":{"domain":[0,60],"reverse":true},"axis":null},"text":{"field":"LE"}}}
]},
{"width":176,"height":60,"data":{"name":"deltas"},"transform":[{"filter":"datum.clone == 'A2'"}],"resolve":{"scale":{"x":"independent"}},"layer":[
{"data":{"name":"brackets"},"mark":{"type":"rule","strokeWidth":1.2},"encoding":{"x":{"field":"start","type":"quantitative","scale":{"domain":[0,4]},"axis":null},"x2":{"field":"end"},"y":{"datum":2.5,"type":"quantitative","scale":{"domain":[0,60],"reverse":true},"axis":null}}},
{"data":{"name":"brackets"},"mark":{"type":"rule","strokeWidth":1.2},"encoding":{"x":{"field":"start","type":"quantitative","scale":{"domain":[0,4]},"axis":null},"y":{"datum":0,"type":"quantitative","scale":{"domain":[0,60],"reverse":true},"axis":null},"y2":{"datum":2.5}}},
{"data":{"name":"brackets"},"mark":{"type":"rule","strokeWidth":1.2},"encoding":{"x":{"field":"end","type":"quantitative","scale":{"domain":[0,4]},"axis":null},"y":{"datum":0,"type":"quantitative","scale":{"domain":[0,60],"reverse":true},"axis":null},"y2":{"datum":2.5}}},
{"data":{"name":"brackets"},"mark":{"type":"rule","strokeWidth":1.2},"encoding":{"x":{"field":"mid","type":"quantitative","scale":{"domain":[0,4]},"axis":null},"y":{"datum":2.5,"type":"quantitative","scale":{"domain":[0,60],"reverse":true},"axis":null},"y2":{"datum":5.5}}},
{"data":{"name":"brackets"},"mark":{"type":"text","fontSize":11},"encoding":{"x":{"field":"mid","type":"quantitative","scale":{"domain":[0,4]},"axis":null},"y":{"datum":12.5,"type":"quantitative","scale":{"domain":[0,60],"reverse":true},"axis":null},"text":{"field":"label"}}},
{"data":{"name":"phases"},"mark":{"type":"bar","stroke":"#222222","strokeWidth":0.8},"encoding":{"x":{"field":"phase","type":"nominal","scale":{"domain":["S1","S2","S3","S4","_5","_6","_7","_8","_9","_10","_11","_12","_13"],"paddingInner":0.43,"paddingOuter":1,"align":1},"axis":null},"y":{"datum":30.5,"type":"quantitative","scale":{"domain":[0,60],"reverse":true},"axis":null},"y2":{"datum":40.5},"color":{"field":"phase","type":"nominal","legend":null}}},
{"data":{"name":"phases"},"mark":{"type":"text","fontSize":9},"encoding":{"x":{"field":"phase","type":"nominal","scale":{"domain":["S1","S2","S3","S4","_5","_6","_7","_8","_9","_10","_11","_12","_13"],"paddingInner":0.43,"paddingOuter":1,"align":1},"axis":null},"y":{"datum":50.5,"type":"quantitative","scale":{"domain":[0,60],"reverse":true},"axis":null},"text":{"field":"phase"}}},
{"mark":{"type":"rule","color":"#333333"},"encoding":{"x":{"datum":2.27,"type":"quantitative","scale":{"domain":[0,4]},"axis":null},"y":{"datum":22.5,"type":"quantitative","scale":{"domain":[0,60],"reverse":true},"axis":null},"y2":{"datum":60}}},
{"mark":{"type":"rule","color":"#333333"},"encoding":{"x":{"datum":2.27,"type":"quantitative","scale":{"domain":[0,4]},"axis":null},"x2":{"datum":2.34},"y":{"datum":22.5,"type":"quantitative","scale":{"domain":[0,60],"reverse":true},"axis":null}}},
{"mark":{"type":"rule","color":"#333333"},"encoding":{"x":{"datum":2.27,"type":"quantitative","scale":{"domain":[0,4]},"axis":null},"x2":{"datum":2.34},"y":{"datum":60,"type":"quantitative","scale":{"domain":[0,60],"reverse":true},"axis":null}}},
{"mark":{"type":"rule","color":"#333333"},"encoding":{"x":{"datum":2.18,"type":"quantitative","scale":{"domain":[0,4]},"axis":null},"x2":{"datum":2.27},"y":{"datum":41,"type":"quantitative","scale":{"domain":[0,60],"reverse":true},"axis":null}}},
{"mark":{"type":"text","align":"left","fontSize":9.5},"encoding":{"x":{"datum":2.46,"type":"quantitative","scale":{"domain":[0,4]},"axis":null},"y":{"datum":26.5,"type":"quantitative","scale":{"domain":[0,60],"reverse":true},"axis":null},"text":{"field":"L"}}},
{"mark":{"type":"text","align":"left","fontSize":9.5},"encoding":{"x":{"datum":2.46,"type":"quantitative","scale":{"domain":[0,4]},"axis":null},"y":{"datum":40,"type":"quantitative","scale":{"domain":[0,60],"reverse":true},"axis":null},"text":{"field":"E"}}},
{"mark":{"type":"text","align":"left","fontSize":9.5},"encoding":{"x":{"datum":2.46,"type":"quantitative","scale":{"domain":[0,4]},"axis":null},"y":{"datum":54,"type":"quantitative","scale":{"domain":[0,60],"reverse":true},"axis":null},"text":{"field":"LE"}}}
]},
{"width":172,"height":60,"data":{"name":"deltas"},"transform":[{"filter":"datum.clone == 'A3'"}],"resolve":{"scale":{"x":"independent"}},"layer":[
{"data":{"name":"brackets"},"mark":{"type":"rule","strokeWidth":1.2},"encoding":{"x":{"field":"start","type":"quantitative","scale":{"domain":[0,4]},"axis":null},"x2":{"field":"end"},"y":{"datum":2.5,"type":"quantitative","scale":{"domain":[0,60],"reverse":true},"axis":null}}},
{"data":{"name":"brackets"},"mark":{"type":"rule","strokeWidth":1.2},"encoding":{"x":{"field":"start","type":"quantitative","scale":{"domain":[0,4]},"axis":null},"y":{"datum":0,"type":"quantitative","scale":{"domain":[0,60],"reverse":true},"axis":null},"y2":{"datum":2.5}}},
{"data":{"name":"brackets"},"mark":{"type":"rule","strokeWidth":1.2},"encoding":{"x":{"field":"end","type":"quantitative","scale":{"domain":[0,4]},"axis":null},"y":{"datum":0,"type":"quantitative","scale":{"domain":[0,60],"reverse":true},"axis":null},"y2":{"datum":2.5}}},
{"data":{"name":"brackets"},"mark":{"type":"rule","strokeWidth":1.2},"encoding":{"x":{"field":"mid","type":"quantitative","scale":{"domain":[0,4]},"axis":null},"y":{"datum":2.5,"type":"quantitative","scale":{"domain":[0,60],"reverse":true},"axis":null},"y2":{"datum":5.5}}},
{"data":{"name":"brackets"},"mark":{"type":"text","fontSize":11},"encoding":{"x":{"field":"mid","type":"quantitative","scale":{"domain":[0,4]},"axis":null},"y":{"datum":12.5,"type":"quantitative","scale":{"domain":[0,60],"reverse":true},"axis":null},"text":{"field":"label"}}},
{"data":{"name":"phases"},"mark":{"type":"bar","stroke":"#222222","strokeWidth":0.8},"encoding":{"x":{"field":"phase","type":"nominal","scale":{"domain":["S1","S2","S3","S4","_5","_6","_7","_8","_9","_10","_11","_12"],"paddingInner":0.43,"paddingOuter":1,"align":0.83},"axis":null},"y":{"datum":30.5,"type":"quantitative","scale":{"domain":[0,60],"reverse":true},"axis":null},"y2":{"datum":40.5},"color":{"field":"phase","type":"nominal","legend":null}}},
{"data":{"name":"phases"},"mark":{"type":"text","fontSize":9},"encoding":{"x":{"field":"phase","type":"nominal","scale":{"domain":["S1","S2","S3","S4","_5","_6","_7","_8","_9","_10","_11","_12"],"paddingInner":0.43,"paddingOuter":1,"align":0.83},"axis":null},"y":{"datum":50.5,"type":"quantitative","scale":{"domain":[0,60],"reverse":true},"axis":null},"text":{"field":"phase"}}},
{"mark":{"type":"rule","color":"#333333"},"encoding":{"x":{"datum":2.0,"type":"quantitative","scale":{"domain":[0,4]},"axis":null},"y":{"datum":22.5,"type":"quantitative","scale":{"domain":[0,60],"reverse":true},"axis":null},"y2":{"datum":60}}},
{"mark":{"type":"rule","color":"#333333"},"encoding":{"x":{"datum":2.0,"type":"quantitative","scale":{"domain":[0,4]},"axis":null},"x2":{"datum":2.07},"y":{"datum":22.5,"type":"quantitative","scale":{"domain":[0,60],"reverse":true},"axis":null}}},
{"mark":{"type":"rule","color":"#333333"},"encoding":{"x":{"datum":2.0,"type":"quantitative","scale":{"domain":[0,4]},"axis":null},"x2":{"datum":2.07},"y":{"datum":60,"type":"quantitative","scale":{"domain":[0,60],"reverse":true},"axis":null}}},
{"mark":{"type":"rule","color":"#333333"},"encoding":{"x":{"datum":1.91,"type":"quantitative","scale":{"domain":[0,4]},"axis":null},"x2":{"datum":2.0},"y":{"datum":41,"type":"quantitative","scale":{"domain":[0,60],"reverse":true},"axis":null}}},
{"mark":{"type":"text","align":"left","fontSize":9.5},"encoding":{"x":{"datum":2.23,"type":"quantitative","scale":{"domain":[0,4]},"axis":null},"y":{"datum":26.5,"type":"quantitative","scale":{"domain":[0,60],"reverse":true},"axis":null},"text":{"field":"L"}}},
{"mark":{"type":"text","align":"left","fontSize":9.5},"encoding":{"x":{"datum":2.23,"type":"quantitative","scale":{"domain":[0,4]},"axis":null},"y":{"datum":40,"type":"quantitative","scale":{"domain":[0,60],"reverse":true},"axis":null},"text":{"field":"E"}}},
{"mark":{"type":"text","align":"left","fontSize":9.5},"encoding":{"x":{"datum":2.23,"type":"quantitative","scale":{"domain":[0,4]},"axis":null},"y":{"datum":54,"type":"quantitative","scale":{"domain":[0,60],"reverse":true},"axis":null},"text":{"field":"LE"}}}
]}
]},
{"bounds":"flush","spacing":25,"hconcat":[
{"width":30,"height":108,"data":{"values":[{"axis":"y"}]},"mark":{"type":"text","angle":270,"fontSize":9.5,"lineHeight":12.5,"align":"center","baseline":"middle","text":["% of NS in each fraction relative","to total S-phase"]},"encoding":{"x":{"datum":28.5,"type":"quantitative","scale":{"domain":[0,30]},"axis":null},"y":{"datum":54,"type":"quantitative","scale":{"domain":[0,108]},"axis":null}}},
{"title":"Clone 4","width":172,"height":108,"data":{"name":"bars"},"transform":[{"filter":"datum.clone == 'A4'"}],
"encoding":{"x":{"field":"group","type":"nominal","sort":["Early","With","Without","Both"],"scale":{"paddingInner":0,"paddingOuter":0},"axis":{"title":null,"labelAngle":0,"tickBand":"extent","labelPadding":-4,"labelFontSize":11}},"xOffset":{"field":"phase","type":"nominal","sort":["S1","S2","S3","S4"],"scale":{"paddingInner":0.06,"paddingOuter":0.72}}},
"layer":[
{"mark":{"type":"bar","stroke":"#1a1a1a","strokeWidth":0.8},"encoding":{"y":{"field":"value","type":"quantitative","scale":{"domain":[0,70]},"axis":{"title":null,"values":[0,10,20,30,40,50,60,70]}},"color":{"field":"phase","type":"nominal","scale":{"domain":["S1","S2","S3","S4"],"range":["#e8202a","#fff200","#00a651","#1f70c1"]},"legend":null}}},
{"mark":{"type":"rule","color":"#111111","strokeWidth":1},"encoding":{"y":{"field":"lo","type":"quantitative","scale":{"domain":[0,70]}},"y2":{"field":"hi"}}},
{"mark":{"type":"tick","color":"#111111","thickness":1,"size":4,"opacity":1},"encoding":{"y":{"field":"lo","type":"quantitative","scale":{"domain":[0,70]}}}},
{"mark":{"type":"tick","color":"#111111","thickness":1,"size":4,"opacity":1},"encoding":{"y":{"field":"hi","type":"quantitative","scale":{"domain":[0,70]}}}}
]},
{"title":"Clone 5","width":176,"height":108,"data":{"name":"bars"},"transform":[{"filter":"datum.clone == 'A5'"}],
"encoding":{"x":{"field":"group","type":"nominal","sort":["Early","With","Without","Both"],"scale":{"paddingInner":0,"paddingOuter":0},"axis":{"title":null,"labelAngle":0,"tickBand":"extent","labelPadding":-4,"labelFontSize":11}},"xOffset":{"field":"phase","type":"nominal","sort":["S1","S2","S3","S4"],"scale":{"paddingInner":0.06,"paddingOuter":0.72}}},
"layer":[
{"mark":{"type":"bar","stroke":"#1a1a1a","strokeWidth":0.8},"encoding":{"y":{"field":"value","type":"quantitative","scale":{"domain":[0,60]},"axis":{"title":null,"values":[0,10,20,30,40,50,60]}},"color":{"field":"phase","type":"nominal","scale":{"domain":["S1","S2","S3","S4"],"range":["#e8202a","#fff200","#00a651","#1f70c1"]},"legend":null}}},
{"mark":{"type":"rule","color":"#111111","strokeWidth":1},"encoding":{"y":{"field":"lo","type":"quantitative","scale":{"domain":[0,60]}},"y2":{"field":"hi"}}},
{"mark":{"type":"tick","color":"#111111","thickness":1,"size":4,"opacity":1},"encoding":{"y":{"field":"lo","type":"quantitative","scale":{"domain":[0,60]}}}},
{"mark":{"type":"tick","color":"#111111","thickness":1,"size":4,"opacity":1},"encoding":{"y":{"field":"hi","type":"quantitative","scale":{"domain":[0,60]}}}}
]},
{"title":"Clone 6","width":172,"height":108,"data":{"name":"bars"},"transform":[{"filter":"datum.clone == 'A6'"}],
"encoding":{"x":{"field":"group","type":"nominal","sort":["Early","With","Without","Both"],"scale":{"paddingInner":0,"paddingOuter":0},"axis":{"title":null,"labelAngle":0,"tickBand":"extent","labelPadding":-4,"labelFontSize":11}},"xOffset":{"field":"phase","type":"nominal","sort":["S1","S2","S3","S4"],"scale":{"paddingInner":0.06,"paddingOuter":0.72}}},
"layer":[
{"mark":{"type":"bar","stroke":"#1a1a1a","strokeWidth":0.8},"encoding":{"y":{"field":"value","type":"quantitative","scale":{"domain":[0,60]},"axis":{"title":null,"values":[0,10,20,30,40,50,60]}},"color":{"field":"phase","type":"nominal","scale":{"domain":["S1","S2","S3","S4"],"range":["#e8202a","#fff200","#00a651","#1f70c1"]},"legend":null}}},
{"mark":{"type":"rule","color":"#111111","strokeWidth":1},"encoding":{"y":{"field":"lo","type":"quantitative","scale":{"domain":[0,60]}},"y2":{"field":"hi"}}},
{"mark":{"type":"tick","color":"#111111","thickness":1,"size":4,"opacity":1},"encoding":{"y":{"field":"lo","type":"quantitative","scale":{"domain":[0,60]}}}},
{"mark":{"type":"tick","color":"#111111","thickness":1,"size":4,"opacity":1},"encoding":{"y":{"field":"hi","type":"quantitative","scale":{"domain":[0,60]}}}}
]}
]},
{"bounds":"flush","spacing":25,"hconcat":[
{"width":30,"height":60,"data":{"values":[{"blank":1}]},"mark":{"type":"point","opacity":0}},
{"width":172,"height":60,"data":{"name":"deltas"},"transform":[{"filter":"datum.clone == 'A4'"}],"resolve":{"scale":{"x":"independent"}},"layer":[
{"data":{"name":"brackets"},"mark":{"type":"rule","strokeWidth":1.2},"encoding":{"x":{"field":"start","type":"quantitative","scale":{"domain":[0,4]},"axis":null},"x2":{"field":"end"},"y":{"datum":2.5,"type":"quantitative","scale":{"domain":[0,60],"reverse":true},"axis":null}}},
{"data":{"name":"brackets"},"mark":{"type":"rule","strokeWidth":1.2},"encoding":{"x":{"field":"start","type":"quantitative","scale":{"domain":[0,4]},"axis":null},"y":{"datum":0,"type":"quantitative","scale":{"domain":[0,60],"reverse":true},"axis":null},"y2":{"datum":2.5}}},
{"data":{"name":"brackets"},"mark":{"type":"rule","strokeWidth":1.2},"encoding":{"x":{"field":"end","type":"quantitative","scale":{"domain":[0,4]},"axis":null},"y":{"datum":0,"type":"quantitative","scale":{"domain":[0,60],"reverse":true},"axis":null},"y2":{"datum":2.5}}},
{"data":{"name":"brackets"},"mark":{"type":"rule","strokeWidth":1.2},"encoding":{"x":{"field":"mid","type":"quantitative","scale":{"domain":[0,4]},"axis":null},"y":{"datum":2.5,"type":"quantitative","scale":{"domain":[0,60],"reverse":true},"axis":null},"y2":{"datum":5.5}}},
{"data":{"name":"brackets"},"mark":{"type":"text","fontSize":11},"encoding":{"x":{"field":"mid","type":"quantitative","scale":{"domain":[0,4]},"axis":null},"y":{"datum":12.5,"type":"quantitative","scale":{"domain":[0,60],"reverse":true},"axis":null},"text":{"field":"label"}}},
{"data":{"name":"phases"},"mark":{"type":"bar","stroke":"#222222","strokeWidth":0.8},"encoding":{"x":{"field":"phase","type":"nominal","scale":{"domain":["S1","S2","S3","S4","_5","_6","_7","_8","_9","_10","_11","_12"],"paddingInner":0.43,"paddingOuter":1,"align":0.237},"axis":null},"y":{"datum":30.5,"type":"quantitative","scale":{"domain":[0,60],"reverse":true},"axis":null},"y2":{"datum":40.5},"color":{"field":"phase","type":"nominal","legend":null}}},
{"data":{"name":"phases"},"mark":{"type":"text","fontSize":9},"encoding":{"x":{"field":"phase","type":"nominal","scale":{"domain":["S1","S2","S3","S4","_5","_6","_7","_8","_9","_10","_11","_12"],"paddingInner":0.43,"paddingOuter":1,"align":0.237},"axis":null},"y":{"datum":50.5,"type":"quantitative","scale":{"domain":[0,60],"reverse":true},"axis":null},"text":{"field":"phase"}}},
{"mark":{"type":"rule","color":"#333333"},"encoding":{"x":{"datum":2.16,"type":"quantitative","scale":{"domain":[0,4]},"axis":null},"y":{"datum":22.5,"type":"quantitative","scale":{"domain":[0,60],"reverse":true},"axis":null},"y2":{"datum":60}}},
{"mark":{"type":"rule","color":"#333333"},"encoding":{"x":{"datum":2.16,"type":"quantitative","scale":{"domain":[0,4]},"axis":null},"x2":{"datum":2.23},"y":{"datum":22.5,"type":"quantitative","scale":{"domain":[0,60],"reverse":true},"axis":null}}},
{"mark":{"type":"rule","color":"#333333"},"encoding":{"x":{"datum":2.16,"type":"quantitative","scale":{"domain":[0,4]},"axis":null},"x2":{"datum":2.23},"y":{"datum":60,"type":"quantitative","scale":{"domain":[0,60],"reverse":true},"axis":null}}},
{"mark":{"type":"rule","color":"#333333"},"encoding":{"x":{"datum":2.07,"type":"quantitative","scale":{"domain":[0,4]},"axis":null},"x2":{"datum":2.16},"y":{"datum":41,"type":"quantitative","scale":{"domain":[0,60],"reverse":true},"axis":null}}},
{"mark":{"type":"text","align":"left","fontSize":9.5},"encoding":{"x":{"datum":2.37,"type":"quantitative","scale":{"domain":[0,4]},"axis":null},"y":{"datum":26.5,"type":"quantitative","scale":{"domain":[0,60],"reverse":true},"axis":null},"text":{"field":"L"}}},
{"mark":{"type":"text","align":"left","fontSize":9.5},"encoding":{"x":{"datum":2.37,"type":"quantitative","scale":{"domain":[0,4]},"axis":null},"y":{"datum":40,"type":"quantitative","scale":{"domain":[0,60],"reverse":true},"axis":null},"text":{"field":"E"}}},
{"mark":{"type":"text","align":"left","fontSize":9.5},"encoding":{"x":{"datum":2.37,"type":"quantitative","scale":{"domain":[0,4]},"axis":null},"y":{"datum":54,"type":"quantitative","scale":{"domain":[0,60],"reverse":true},"axis":null},"text":{"field":"LE"}}}
]},
{"width":176,"height":60,"data":{"name":"deltas"},"transform":[{"filter":"datum.clone == 'A5'"}],"resolve":{"scale":{"x":"independent"}},"layer":[
{"data":{"name":"brackets"},"mark":{"type":"rule","strokeWidth":1.2},"encoding":{"x":{"field":"start","type":"quantitative","scale":{"domain":[0,4]},"axis":null},"x2":{"field":"end"},"y":{"datum":2.5,"type":"quantitative","scale":{"domain":[0,60],"reverse":true},"axis":null}}},
{"data":{"name":"brackets"},"mark":{"type":"rule","strokeWidth":1.2},"encoding":{"x":{"field":"start","type":"quantitative","scale":{"domain":[0,4]},"axis":null},"y":{"datum":0,"type":"quantitative","scale":{"domain":[0,60],"reverse":true},"axis":null},"y2":{"datum":2.5}}},
{"data":{"name":"brackets"},"mark":{"type":"rule","strokeWidth":1.2},"encoding":{"x":{"field":"end","type":"quantitative","scale":{"domain":[0,4]},"axis":null},"y":{"datum":0,"type":"quantitative","scale":{"domain":[0,60],"reverse":true},"axis":null},"y2":{"datum":2.5}}},
{"data":{"name":"brackets"},"mark":{"type":"rule","strokeWidth":1.2},"encoding":{"x":{"field":"mid","type":"quantitative","scale":{"domain":[0,4]},"axis":null},"y":{"datum":2.5,"type":"quantitative","scale":{"domain":[0,60],"reverse":true},"axis":null},"y2":{"datum":5.5}}},
{"data":{"name":"brackets"},"mark":{"type":"text","fontSize":11},"encoding":{"x":{"field":"mid","type":"quantitative","scale":{"domain":[0,4]},"axis":null},"y":{"datum":12.5,"type":"quantitative","scale":{"domain":[0,60],"reverse":true},"axis":null},"text":{"field":"label"}}},
{"data":{"name":"phases"},"mark":{"type":"bar","stroke":"#222222","strokeWidth":0.8},"encoding":{"x":{"field":"phase","type":"nominal","scale":{"domain":["S1","S2","S3","S4","_5","_6","_7","_8","_9","_10","_11","_12","_13"],"paddingInner":0.43,"paddingOuter":1,"align":0.95},"axis":null},"y":{"datum":30.5,"type":"quantitative","scale":{"domain":[0,60],"reverse":true},"axis":null},"y2":{"datum":40.5},"color":{"field":"phase","type":"nominal","legend":null}}},
{"data":{"name":"phases"},"mark":{"type":"text","fontSize":9},"encoding":{"x":{"field":"phase","type":"nominal","scale":{"domain":["S1","S2","S3","S4","_5","_6","_7","_8","_9","_10","_11","_12","_13"],"paddingInner":0.43,"paddingOuter":1,"align":0.95},"axis":null},"y":{"datum":50.5,"type":"quantitative","scale":{"domain":[0,60],"reverse":true},"axis":null},"text":{"field":"phase"}}},
{"mark":{"type":"rule","color":"#333333"},"encoding":{"x":{"datum":2.27,"type":"quantitative","scale":{"domain":[0,4]},"axis":null},"y":{"datum":22.5,"type":"quantitative","scale":{"domain":[0,60],"reverse":true},"axis":null},"y2":{"datum":60}}},
{"mark":{"type":"rule","color":"#333333"},"encoding":{"x":{"datum":2.27,"type":"quantitative","scale":{"domain":[0,4]},"axis":null},"x2":{"datum":2.34},"y":{"datum":22.5,"type":"quantitative","scale":{"domain":[0,60],"reverse":true},"axis":null}}},
{"mark":{"type":"rule","color":"#333333"},"encoding":{"x":{"datum":2.27,"type":"quantitative","scale":{"domain":[0,4]},"axis":null},"x2":{"datum":2.34},"y":{"datum":60,"type":"quantitative","scale":{"domain":[0,60],"reverse":true},"axis":null}}},
{"mark":{"type":"rule","color":"#333333"},"encoding":{"x":{"datum":2.18,"type":"quantitative","scale":{"domain":[0,4]},"axis":null},"x2":{"datum":2.27},"y":{"datum":41,"type":"quantitative","scale":{"domain":[0,60],"reverse":true},"axis":null}}},
{"mark":{"type":"text","align":"left","fontSize":9.5},"encoding":{"x":{"datum":2.45,"type":"quantitative","scale":{"domain":[0,4]},"axis":null},"y":{"datum":26.5,"type":"quantitative","scale":{"domain":[0,60],"reverse":true},"axis":null},"text":{"field":"L"}}},
{"mark":{"type":"text","align":"left","fontSize":9.5},"encoding":{"x":{"datum":2.45,"type":"quantitative","scale":{"domain":[0,4]},"axis":null},"y":{"datum":40,"type":"quantitative","scale":{"domain":[0,60],"reverse":true},"axis":null},"text":{"field":"E"}}},
{"mark":{"type":"text","align":"left","fontSize":9.5},"encoding":{"x":{"datum":2.45,"type":"quantitative","scale":{"domain":[0,4]},"axis":null},"y":{"datum":54,"type":"quantitative","scale":{"domain":[0,60],"reverse":true},"axis":null},"text":{"field":"LE"}}}
]},
{"width":172,"height":60,"data":{"name":"deltas"},"transform":[{"filter":"datum.clone == 'A6'"}],"resolve":{"scale":{"x":"independent"}},"layer":[
{"data":{"name":"brackets"},"mark":{"type":"rule","strokeWidth":1.2},"encoding":{"x":{"field":"start","type":"quantitative","scale":{"domain":[0,4]},"axis":null},"x2":{"field":"end"},"y":{"datum":2.5,"type":"quantitative","scale":{"domain":[0,60],"reverse":true},"axis":null}}},
{"data":{"name":"brackets"},"mark":{"type":"rule","strokeWidth":1.2},"encoding":{"x":{"field":"start","type":"quantitative","scale":{"domain":[0,4]},"axis":null},"y":{"datum":0,"type":"quantitative","scale":{"domain":[0,60],"reverse":true},"axis":null},"y2":{"datum":2.5}}},
{"data":{"name":"brackets"},"mark":{"type":"rule","strokeWidth":1.2},"encoding":{"x":{"field":"end","type":"quantitative","scale":{"domain":[0,4]},"axis":null},"y":{"datum":0,"type":"quantitative","scale":{"domain":[0,60],"reverse":true},"axis":null},"y2":{"datum":2.5}}},
{"data":{"name":"brackets"},"mark":{"type":"rule","strokeWidth":1.2},"encoding":{"x":{"field":"mid","type":"quantitative","scale":{"domain":[0,4]},"axis":null},"y":{"datum":2.5,"type":"quantitative","scale":{"domain":[0,60],"reverse":true},"axis":null},"y2":{"datum":5.5}}},
{"data":{"name":"brackets"},"mark":{"type":"text","fontSize":11},"encoding":{"x":{"field":"mid","type":"quantitative","scale":{"domain":[0,4]},"axis":null},"y":{"datum":12.5,"type":"quantitative","scale":{"domain":[0,60],"reverse":true},"axis":null},"text":{"field":"label"}}},
{"data":{"name":"phases"},"mark":{"type":"bar","stroke":"#222222","strokeWidth":0.8},"encoding":{"x":{"field":"phase","type":"nominal","scale":{"domain":["S1","S2","S3","S4","_5","_6","_7","_8","_9","_10","_11","_12"],"paddingInner":0.43,"paddingOuter":1,"align":0.83},"axis":null},"y":{"datum":30.5,"type":"quantitative","scale":{"domain":[0,60],"reverse":true},"axis":null},"y2":{"datum":40.5},"color":{"field":"phase","type":"nominal","legend":null}}},
{"data":{"name":"phases"},"mark":{"type":"text","fontSize":9},"encoding":{"x":{"field":"phase","type":"nominal","scale":{"domain":["S1","S2","S3","S4","_5","_6","_7","_8","_9","_10","_11","_12"],"paddingInner":0.43,"paddingOuter":1,"align":0.83},"axis":null},"y":{"datum":50.5,"type":"quantitative","scale":{"domain":[0,60],"reverse":true},"axis":null},"text":{"field":"phase"}}},
{"mark":{"type":"rule","color":"#333333"},"encoding":{"x":{"datum":2.0,"type":"quantitative","scale":{"domain":[0,4]},"axis":null},"y":{"datum":22.5,"type":"quantitative","scale":{"domain":[0,60],"reverse":true},"axis":null},"y2":{"datum":60}}},
{"mark":{"type":"rule","color":"#333333"},"encoding":{"x":{"datum":2.0,"type":"quantitative","scale":{"domain":[0,4]},"axis":null},"x2":{"datum":2.07},"y":{"datum":22.5,"type":"quantitative","scale":{"domain":[0,60],"reverse":true},"axis":null}}},
{"mark":{"type":"rule","color":"#333333"},"encoding":{"x":{"datum":2.0,"type":"quantitative","scale":{"domain":[0,4]},"axis":null},"x2":{"datum":2.07},"y":{"datum":60,"type":"quantitative","scale":{"domain":[0,60],"reverse":true},"axis":null}}},
{"mark":{"type":"rule","color":"#333333"},"encoding":{"x":{"datum":1.91,"type":"quantitative","scale":{"domain":[0,4]},"axis":null},"x2":{"datum":2.0},"y":{"datum":41,"type":"quantitative","scale":{"domain":[0,60],"reverse":true},"axis":null}}},
{"mark":{"type":"text","align":"left","fontSize":9.5},"encoding":{"x":{"datum":2.23,"type":"quantitative","scale":{"domain":[0,4]},"axis":null},"y":{"datum":26.5,"type":"quantitative","scale":{"domain":[0,60],"reverse":true},"axis":null},"text":{"field":"L"}}},
{"mark":{"type":"text","align":"left","fontSize":9.5},"encoding":{"x":{"datum":2.23,"type":"quantitative","scale":{"domain":[0,4]},"axis":null},"y":{"datum":40,"type":"quantitative","scale":{"domain":[0,60],"reverse":true},"axis":null},"text":{"field":"E"}}},
{"mark":{"type":"text","align":"left","fontSize":9.5},"encoding":{"x":{"datum":2.23,"type":"quantitative","scale":{"domain":[0,4]},"axis":null},"y":{"datum":54,"type":"quantitative","scale":{"domain":[0,60],"reverse":true},"axis":null},"text":{"field":"LE"}}}
]}
]},
{"width":633,"height":108,"data":{"values":[{"panel":"B"}]},"layer":[
{"mark":{"type":"text","text":"B","fontSize":13,"fontWeight":"bold","align":"left"},"encoding":{"x":{"datum":-7750,"type":"quantitative","scale":{"domain":[-7844,11938]},"axis":null},"y":{"datum":33,"type":"quantitative","scale":{"domain":[0,108],"reverse":true},"axis":null}}},
{"mark":{"type":"text","text":"β","fontSize":11.5,"align":"left"},"encoding":{"x":{"datum":-4094,"type":"quantitative","scale":{"domain":[-7844,11938]},"axis":null},"y":{"datum":61,"type":"quantitative","scale":{"domain":[0,108],"reverse":true},"axis":null}}},
{"mark":{"type":"text","text":"A","fontSize":7.5,"align":"left"},"encoding":{"x":{"datum":-3888,"type":"quantitative","scale":{"domain":[-7844,11938]},"axis":null},"y":{"datum":56,"type":"quantitative","scale":{"domain":[0,108],"reverse":true},"axis":null}}},
{"mark":{"type":"text","text":"-globin","fontSize":11.5,"fontStyle":"italic","align":"left"},"encoding":{"x":{"datum":-3731,"type":"quantitative","scale":{"domain":[-7844,11938]},"axis":null},"y":{"datum":61,"type":"quantitative","scale":{"domain":[0,108],"reverse":true},"axis":null}}},
{"mark":{"type":"text","text":"+β-","fontSize":11.5,"align":"left"},"encoding":{"x":{"datum":-2653,"type":"quantitative","scale":{"domain":[-7844,11938]},"axis":null},"y":{"datum":61,"type":"quantitative","scale":{"domain":[0,108],"reverse":true},"axis":null}}},
{"mark":{"type":"text","text":"actin","fontSize":11.5,"fontStyle":"italic","align":"left"},"encoding":{"x":{"datum":-2119,"type":"quantitative","scale":{"domain":[-7844,11938]},"axis":null},"y":{"datum":61,"type":"quantitative","scale":{"domain":[0,108],"reverse":true},"axis":null}}},
{"mark":{"type":"text","text":"(1)","fontSize":11.5,"align":"left"},"encoding":{"x":{"datum":-1259,"type":"quantitative","scale":{"domain":[-7844,11938]},"axis":null},"y":{"datum":61,"type":"quantitative","scale":{"domain":[0,108],"reverse":true},"axis":null}}},
{"mark":{"type":"text","text":"Mod","fontSize":9.5,"align":"left"},"encoding":{"x":{"datum":-687,"type":"quantitative","scale":{"domain":[-7844,11938]},"axis":null},"y":{"datum":49,"type":"quantitative","scale":{"domain":[0,108],"reverse":true},"axis":null}}},
{"mark":{"type":"text","text":"Wt","fontSize":9.5,"align":"left"},"encoding":{"x":{"datum":-687,"type":"quantitative","scale":{"domain":[-7844,11938]},"axis":null},"y":{"datum":70,"type":"quantitative","scale":{"domain":[0,108],"reverse":true},"axis":null}}},
{"mark":{"type":"rule","color":"#222222","strokeWidth":1.2},"encoding":{"x":{"datum":31,"type":"quantitative","scale":{"domain":[-7844,11938]},"axis":null},"x2":{"datum":10594},"y":{"datum":51,"type":"quantitative","scale":{"domain":[0,108],"reverse":true},"axis":null}}},
{"mark":{"type":"rule","color":"#222222","strokeWidth":1.2},"encoding":{"x":{"datum":31,"type":"quantitative","scale":{"domain":[-7844,11938]},"axis":null},"x2":{"datum":10594},"y":{"datum":69,"type":"quantitative","scale":{"domain":[0,108],"reverse":true},"axis":null}}},
{"mark":{"type":"rect","fill":"white"},"encoding":{"x":{"datum":8875,"type":"quantitative","scale":{"domain":[-7844,11938]},"axis":null},"x2":{"datum":9000},"y":{"datum":45,"type":"quantitative","scale":{"domain":[0,108],"reverse":true},"axis":null},"y2":{"datum":75}}},
{"mark":{"type":"rule","color":"#222222","strokeWidth":1},"encoding":{"x":{"datum":8750,"type":"quantitative","scale":{"domain":[-7844,11938]},"axis":null},"x2":{"datum":9000},"y":{"datum":63,"type":"quantitative","scale":{"domain":[0,108],"reverse":true},"axis":null},"y2":{"datum":39}}},
{"mark":{"type":"rule","color":"#222222","strokeWidth":1},"encoding":{"x":{"datum":8875,"type":"quantitative","scale":{"domain":[-7844,11938]},"axis":null},"x2":{"datum":9125},"y":{"datum":63,"type":"quantitative","scale":{"domain":[0,108],"reverse":true},"axis":null},"y2":{"datum":39}}},
{"mark":{"type":"rule","color":"#222222","strokeWidth":1},"encoding":{"x":{"datum":8750,"type":"quantitative","scale":{"domain":[-7844,11938]},"axis":null},"x2":{"datum":9000},"y":{"datum":81,"type":"quantitative","scale":{"domain":[0,108],"reverse":true},"axis":null},"y2":{"datum":57}}},
{"mark":{"type":"rule","color":"#222222","strokeWidth":1},"encoding":{"x":{"datum":8875,"type":"quantitative","scale":{"domain":[-7844,11938]},"axis":null},"x2":{"datum":9125},"y":{"datum":81,"type":"quantitative","scale":{"domain":[0,108],"reverse":true},"axis":null},"y2":{"datum":57}}},
{"mark":{"type":"rule","color":"#222222","strokeWidth":1},"encoding":{"x":{"datum":750,"type":"quantitative","scale":{"domain":[-7844,11938]},"axis":null},"y":{"datum":45,"type":"quantitative","scale":{"domain":[0,108],"reverse":true},"axis":null},"y2":{"datum":57}}},
{"mark":{"type":"rule","color":"#222222","strokeWidth":1},"encoding":{"x":{"datum":844,"type":"quantitative","scale":{"domain":[-7844,11938]},"axis":null},"y":{"datum":45,"type":"quantitative","scale":{"domain":[0,108],"reverse":true},"axis":null},"y2":{"datum":57}}},
{"mark":{"type":"rule","color":"#222222","strokeWidth":1},"encoding":{"x":{"datum":4688,"type":"quantitative","scale":{"domain":[-7844,11938]},"axis":null},"y":{"datum":45,"type":"quantitative","scale":{"domain":[0,108],"reverse":true},"axis":null},"y2":{"datum":57}}},
{"mark":{"type":"rule","color":"#222222","strokeWidth":1},"encoding":{"x":{"datum":4781,"type":"quantitative","scale":{"domain":[-7844,11938]},"axis":null},"y":{"datum":45,"type":"quantitative","scale":{"domain":[0,108],"reverse":true},"axis":null},"y2":{"datum":57}}},
{"mark":{"type":"text","text":"2xFIV","fontSize":9.5,"align":"center"},"encoding":{"x":{"datum":812,"type":"quantitative","scale":{"domain":[-7844,11938]},"axis":null},"y":{"datum":36,"type":"quantitative","scale":{"domain":[0,108],"reverse":true},"axis":null}}},
{"mark":{"type":"text","text":"2xFIV","fontSize":9.5,"align":"center"},"encoding":{"x":{"datum":4594,"type":"quantitative","scale":{"domain":[-7844,11938]},"axis":null},"y":{"datum":35,"type":"quantitative","scale":{"domain":[0,108],"reverse":true},"axis":null}}},
{"mark":{"type":"text","text":"polyA","fontSize":9,"align":"center"},"encoding":{"x":{"datum":4375,"type":"quantitative","scale":{"domain":[-7844,11938]},"axis":null},"y":{"datum":45,"type":"quantitative","scale":{"domain":[0,108],"reverse":true},"axis":null}}},
{"mark":{"type":"rect","fill":"white","stroke":"#333333","strokeWidth":1},"encoding":{"x":{"datum":2031,"type":"quantitative","scale":{"domain":[-7844,11938]},"axis":null},"x2":{"datum":3062},"y":{"datum":44,"type":"quantitative","scale":{"domain":[0,108],"reverse":true},"axis":null},"y2":{"datum":58}}},
{"mark":{"type":"rect","fill":"#b3b3b3","stroke":"#333333","strokeWidth":1},"encoding":{"x":{"datum":3062,"type":"quantitative","scale":{"domain":[-7844,11938]},"axis":null},"x2":{"datum":4156},"y":{"datum":44,"type":"quantitative","scale":{"domain":[0,108],"reverse":true},"axis":null},"y2":{"datum":58}}},
{"mark":{"type":"text","text":"β","fontSize":9,"align":"left"},"encoding":{"x":{"datum":2163,"type":"quantitative","scale":{"domain":[-7844,11938]},"axis":null},"y":{"datum":51,"type":"quantitative","scale":{"domain":[0,108],"reverse":true},"axis":null}}},
{"mark":{"type":"text","text":"A","fontSize":6,"align":"left"},"encoding":{"x":{"datum":2322,"type":"quantitative","scale":{"domain":[-7844,11938]},"axis":null},"y":{"datum":48,"type":"quantitative","scale":{"domain":[0,108],"reverse":true},"axis":null}}},
{"mark":{"type":"text","text":"pro","fontSize":9,"align":"left"},"encoding":{"x":{"datum":2525,"type":"quantitative","scale":{"domain":[-7844,11938]},"axis":null},"y":{"datum":51,"type":"quantitative","scale":{"domain":[0,108],"reverse":true},"axis":null}}},
{"mark":{"type":"text","text":"IL2R","fontSize":9.5,"fontStyle":"italic","align":"center"},"encoding":{"x":{"datum":3609,"type":"quantitative","scale":{"domain":[-7844,11938]},"axis":null},"y":{"datum":51,"type":"quantitative","scale":{"domain":[0,108],"reverse":true},"axis":null}}},
{"mark":{"type":"rect","fill":"white","stroke":"#333333","strokeWidth":1},"encoding":{"x":{"datum":5062,"type":"quantitative","scale":{"domain":[-7844,11938]},"axis":null},"x2":{"datum":6375},"y":{"datum":44,"type":"quantitative","scale":{"domain":[0,108],"reverse":true},"axis":null},"y2":{"datum":58}}},
{"mark":{"type":"rect","fill":"#b3b3b3","stroke":"#333333","strokeWidth":1},"encoding":{"x":{"datum":6375,"type":"quantitative","scale":{"domain":[-7844,11938]},"axis":null},"x2":{"datum":7688},"y":{"datum":44,"type":"quantitative","scale":{"domain":[0,108],"reverse":true},"axis":null},"y2":{"datum":58}}},
{"mark":{"type":"text","text":"β-","fontSize":9,"align":"left"},"encoding":{"x":{"datum":5162,"type":"quantitative","scale":{"domain":[-7844,11938]},"axis":null},"y":{"datum":51,"type":"quantitative","scale":{"domain":[0,108],"reverse":true},"axis":null}}},
{"mark":{"type":"text","text":"act","fontSize":9,"fontStyle":"italic","align":"left"},"encoding":{"x":{"datum":5416,"type":"quantitative","scale":{"domain":[-7844,11938]},"axis":null},"y":{"datum":51,"type":"quantitative","scale":{"domain":[0,108],"reverse":true},"axis":null}}},
{"mark":{"type":"text","text":"pro","fontSize":9,"align":"left"},"encoding":{"x":{"datum":5869,"type":"quantitative","scale":{"domain":[-7844,11938]},"axis":null},"y":{"datum":51,"type":"quantitative","scale":{"domain":[0,108],"reverse":true},"axis":null}}},
{"mark":{"type":"text","text":"BsR","fontSize":10,"fontStyle":"italic","align":"center"},"encoding":{"x":{"datum":7031,"type":"quantitative","scale":{"domain":[-7844,11938]},"axis":null},"y":{"datum":51,"type":"quantitative","scale":{"domain":[0,108],"reverse":true},"axis":null}}},
{"mark":{"type":"point","shape":"triangle-right","filled":true,"fill":"#3d9be0","stroke":"#1d5a8c","strokeWidth":0.5,"size":45,"opacity":1},"encoding":{"x":{"datum":4906,"type":"quantitative","scale":{"domain":[-7844,11938]},"axis":null},"y":{"datum":51,"type":"quantitative","scale":{"domain":[0,108],"reverse":true},"axis":null}}},
{"mark":{"type":"point","shape":"triangle-right","filled":true,"fill":"#3d9be0","stroke":"#1d5a8c","strokeWidth":0.5,"size":45,"opacity":1},"encoding":{"x":{"datum":7812,"type":"quantitative","scale":{"domain":[-7844,11938]},"axis":null},"y":{"datum":51,"type":"quantitative","scale":{"domain":[0,108],"reverse":true},"axis":null}}},
{"mark":{"type":"rule","color":"#111111","strokeWidth":1.5},"encoding":{"x":{"datum":6375,"type":"quantitative","scale":{"domain":[-7844,11938]},"axis":null},"y":{"datum":44,"type":"quantitative","scale":{"domain":[0,108],"reverse":true},"axis":null},"y2":{"datum":36}}},
{"mark":{"type":"rule","color":"#111111","strokeWidth":1.5},"encoding":{"x":{"datum":6375,"type":"quantitative","scale":{"domain":[-7844,11938]},"axis":null},"x2":{"datum":6620},"y":{"datum":36,"type":"quantitative","scale":{"domain":[0,108],"reverse":true},"axis":null}}},
{"mark":{"type":"point","shape":"triangle-right","filled":true,"fill":"#111111","size":22,"opacity":1},"encoding":{"x":{"datum":6670,"type":"quantitative","scale":{"domain":[-7844,11938]},"axis":null},"y":{"datum":36,"type":"quantitative","scale":{"domain":[0,108],"reverse":true},"axis":null}}},
{"mark":{"type":"text","text":"With","fontSize":11,"align":"center"},"encoding":{"x":{"datum":2312,"type":"quantitative","scale":{"domain":[-7844,11938]},"axis":null},"y":{"datum":28,"type":"quantitative","scale":{"domain":[0,108],"reverse":true},"axis":null}}},
{"mark":{"type":"rule","color":"#111111","strokeWidth":2.5},"encoding":{"x":{"datum":2187,"type":"quantitative","scale":{"domain":[-7844,11938]},"axis":null},"x2":{"datum":2437},"y":{"datum":37,"type":"quantitative","scale":{"domain":[0,108],"reverse":true},"axis":null}}},
{"mark":{"type":"text","text":"Both","fontSize":11,"align":"center"},"encoding":{"x":{"datum":9500,"type":"quantitative","scale":{"domain":[-7844,11938]},"axis":null},"y":{"datum":27,"type":"quantitative","scale":{"domain":[0,108],"reverse":true},"axis":null}}},
{"mark":{"type":"rule","color":"#111111","strokeWidth":2.5},"encoding":{"x":{"datum":9375,"type":"quantitative","scale":{"domain":[-7844,11938]},"axis":null},"x2":{"datum":9625},"y":{"datum":37,"type":"quantitative","scale":{"domain":[0,108],"reverse":true},"axis":null}}},
{"mark":{"type":"rule","color":"#111111","strokeWidth":2.5},"encoding":{"x":{"datum":4781,"type":"quantitative","scale":{"domain":[-7844,11938]},"axis":null},"y":{"datum":65,"type":"quantitative","scale":{"domain":[0,108],"reverse":true},"axis":null},"y2":{"datum":73}}},
{"mark":{"type":"rule","color":"#111111","strokeWidth":2.5},"encoding":{"x":{"datum":4656,"type":"quantitative","scale":{"domain":[-7844,11938]},"axis":null},"x2":{"datum":4906},"y":{"datum":75,"type":"quantitative","scale":{"domain":[0,108],"reverse":true},"axis":null}}},
{"mark":{"type":"text","text":"Without","fontSize":11,"align":"center"},"encoding":{"x":{"datum":4781,"type":"quantitative","scale":{"domain":[-7844,11938]},"axis":null},"y":{"datum":84.5,"type":"quantitative","scale":{"domain":[0,108],"reverse":true},"axis":null}}},
{"mark":{"type":"text","text":"1","fontSize":11,"fontWeight":"bold","align":"center"},"encoding":{"x":{"datum":4781,"type":"quantitative","scale":{"domain":[-7844,11938]},"axis":null},"y":{"datum":96.5,"type":"quantitative","scale":{"domain":[0,108],"reverse":true},"axis":null}}},
{"mark":{"type":"rule","color":"#111111","strokeWidth":2.5},"encoding":{"x":{"datum":9375,"type":"quantitative","scale":{"domain":[-7844,11938]},"axis":null},"x2":{"datum":9625},"y":{"datum":75,"type":"quantitative","scale":{"domain":[0,108],"reverse":true},"axis":null}}},
{"mark":{"type":"text","text":"Both","fontSize":11,"align":"center"},"encoding":{"x":{"datum":9500,"type":"quantitative","scale":{"domain":[-7844,11938]},"axis":null},"y":{"datum":84.5,"type":"quantitative","scale":{"domain":[0,108],"reverse":true},"axis":null}}},
{"mark":{"type":"rule","color":"#111111","strokeWidth":1.2},"encoding":{"x":{"datum":31,"type":"quantitative","scale":{"domain":[-7844,11938]},"axis":null},"x2":{"datum":531},"y":{"datum":74,"type":"quantitative","scale":{"domain":[0,108],"reverse":true},"axis":null}}},
{"mark":{"type":"text","text":"500 bp","fontSize":9,"align":"left"},"encoding":{"x":{"datum":31,"type":"quantitative","scale":{"domain":[-7844,11938]},"axis":null},"y":{"datum":81,"type":"quantitative","scale":{"domain":[0,108],"reverse":true},"axis":null}}}
]},
{"bounds":"flush","spacing":10,"hconcat":[
{"width":136,"height":111,"data":{"values":[{"axis":"y"}]},"mark":{"type":"text","angle":270,"fontSize":9.5,"lineHeight":12.5,"align":"center","baseline":"middle","text":["% of NS in each fraction relative","to total S-phase"]},"encoding":{"x":{"datum":119.5,"type":"quantitative","scale":{"domain":[0,136]},"axis":null},"y":{"datum":55.5,"type":"quantitative","scale":{"domain":[0,111]},"axis":null}}},
{"title":"Clone 1","width":180,"height":111,"data":{"name":"bars"},"transform":[{"filter":"datum.clone == 'B1'"}],
"encoding":{"x":{"field":"group","type":"nominal","sort":["Early","With","Without","Both"],"scale":{"paddingInner":0,"paddingOuter":0},"axis":{"title":null,"labelAngle":0,"tickBand":"extent","labelPadding":-4,"labelFontSize":11}},"xOffset":{"field":"phase","type":"nominal","sort":["S1","S2","S3","S4"],"scale":{"paddingInner":0.05,"paddingOuter":0.66}}},
"layer":[
{"mark":{"type":"bar","stroke":"#1a1a1a","strokeWidth":0.8},"encoding":{"y":{"field":"value","type":"quantitative","scale":{"domain":[0,60]},"axis":{"title":null,"values":[0,10,20,30,40,50,60]}},"color":{"field":"phase","type":"nominal","scale":{"domain":["S1","S2","S3","S4"],"range":["#e8202a","#fff200","#00a651","#1f70c1"]},"legend":null}}},
{"mark":{"type":"rule","color":"#111111","strokeWidth":1},"encoding":{"y":{"field":"lo","type":"quantitative","scale":{"domain":[0,60]}},"y2":{"field":"hi"}}},
{"mark":{"type":"tick","color":"#111111","thickness":1,"size":4,"opacity":1},"encoding":{"y":{"field":"lo","type":"quantitative","scale":{"domain":[0,60]}}}},
{"mark":{"type":"tick","color":"#111111","thickness":1,"size":4,"opacity":1},"encoding":{"y":{"field":"hi","type":"quantitative","scale":{"domain":[0,60]}}}}
]},
{"width":31,"height":111,"data":{"values":[{"axis":"y"}]},"mark":{"type":"text","angle":270,"fontSize":9.5,"lineHeight":12.5,"align":"center","baseline":"middle","text":["% of NS in each fraction relative","to total S-phase"]},"encoding":{"x":{"datum":14.5,"type":"quantitative","scale":{"domain":[0,31]},"axis":null},"y":{"datum":55.5,"type":"quantitative","scale":{"domain":[0,111]},"axis":null}}},
{"title":"Clone 2","width":184,"height":111,"data":{"name":"bars"},"transform":[{"filter":"datum.clone == 'B2'"}],
"encoding":{"x":{"field":"group","type":"nominal","sort":["Early","With","Without","Both"],"scale":{"paddingInner":0,"paddingOuter":0},"axis":{"title":null,"labelAngle":0,"tickBand":"extent","labelPadding":-4,"labelFontSize":11}},"xOffset":{"field":"phase","type":"nominal","sort":["S1","S2","S3","S4"],"scale":{"paddingInner":0.05,"paddingOuter":0.68}}},
"layer":[
{"mark":{"type":"bar","stroke":"#1a1a1a","strokeWidth":0.8},"encoding":{"y":{"field":"value","type":"quantitative","scale":{"domain":[0,70]},"axis":{"title":null,"values":[0,10,20,30,40,50,60,70]}},"color":{"field":"phase","type":"nominal","scale":{"domain":["S1","S2","S3","S4"],"range":["#e8202a","#fff200","#00a651","#1f70c1"]},"legend":null}}},
{"mark":{"type":"rule","color":"#111111","strokeWidth":1},"encoding":{"y":{"field":"lo","type":"quantitative","scale":{"domain":[0,70]}},"y2":{"field":"hi"}}},
{"mark":{"type":"tick","color":"#111111","thickness":1,"size":4,"opacity":1},"encoding":{"y":{"field":"lo","type":"quantitative","scale":{"domain":[0,70]}}}},
{"mark":{"type":"tick","color":"#111111","thickness":1,"size":4,"opacity":1},"encoding":{"y":{"field":"hi","type":"quantitative","scale":{"domain":[0,70]}}}}
]}
]},
{"bounds":"flush","spacing":10,"hconcat":[
{"width":136,"height":72,"data":{"values":[{"blank":1}]},"mark":{"type":"point","opacity":0}},
{"width":180,"height":72,"data":{"name":"deltas"},"transform":[{"filter":"datum.clone == 'B1'"}],"resolve":{"scale":{"x":"independent"}},"layer":[
{"data":{"name":"brackets"},"mark":{"type":"rule","strokeWidth":1.2},"encoding":{"x":{"field":"start","type":"quantitative","scale":{"domain":[0,4]},"axis":null},"x2":{"field":"end"},"y":{"datum":2.5,"type":"quantitative","scale":{"domain":[0,72],"reverse":true},"axis":null}}},
{"data":{"name":"brackets"},"mark":{"type":"rule","strokeWidth":1.2},"encoding":{"x":{"field":"start","type":"quantitative","scale":{"domain":[0,4]},"axis":null},"y":{"datum":0,"type":"quantitative","scale":{"domain":[0,72],"reverse":true},"axis":null},"y2":{"datum":2.5}}},
{"data":{"name":"brackets"},"mark":{"type":"rule","strokeWidth":1.2},"encoding":{"x":{"field":"end","type":"quantitative","scale":{"domain":[0,4]},"axis":null},"y":{"datum":0,"type":"quantitative","scale":{"domain":[0,72],"reverse":true},"axis":null},"y2":{"datum":2.5}}},
{"data":{"name":"brackets"},"mark":{"type":"rule","strokeWidth":1.2},"encoding":{"x":{"field":"mid","type":"quantitative","scale":{"domain":[0,4]},"axis":null},"y":{"datum":2.5,"type":"quantitative","scale":{"domain":[0,72],"reverse":true},"axis":null},"y2":{"datum":5.5}}},
{"data":{"name":"brackets"},"mark":{"type":"text","fontSize":11},"encoding":{"x":{"field":"mid","type":"quantitative","scale":{"domain":[0,4]},"axis":null},"y":{"datum":15,"type":"quantitative","scale":{"domain":[0,72],"reverse":true},"axis":null},"text":{"field":"label"}}},
{"data":{"name":"phases"},"mark":{"type":"bar","stroke":"#222222","strokeWidth":0.8},"encoding":{"x":{"field":"phase","type":"nominal","scale":{"domain":["S1","S2","S3","S4","_5","_6","_7","_8","_9","_10","_11","_12","_13"],"paddingInner":0.43,"paddingOuter":1,"align":0.16},"axis":null},"y":{"datum":30,"type":"quantitative","scale":{"domain":[0,72],"reverse":true},"axis":null},"y2":{"datum":41},"color":{"field":"phase","type":"nominal","legend":null}}},
{"data":{"name":"phases"},"mark":{"type":"text","fontSize":9},"encoding":{"x":{"field":"phase","type":"nominal","scale":{"domain":["S1","S2","S3","S4","_5","_6","_7","_8","_9","_10","_11","_12","_13"],"paddingInner":0.43,"paddingOuter":1,"align":0.16},"axis":null},"y":{"datum":53,"type":"quantitative","scale":{"domain":[0,72],"reverse":true},"axis":null},"text":{"field":"phase"}}},
{"mark":{"type":"rule","color":"#333333"},"encoding":{"x":{"datum":1.53,"type":"quantitative","scale":{"domain":[0,4]},"axis":null},"y":{"datum":23,"type":"quantitative","scale":{"domain":[0,72],"reverse":true},"axis":null},"y2":{"datum":68}}},
{"mark":{"type":"rule","color":"#333333"},"encoding":{"x":{"datum":1.53,"type":"quantitative","scale":{"domain":[0,4]},"axis":null},"x2":{"datum":1.6},"y":{"datum":23,"type":"quantitative","scale":{"domain":[0,72],"reverse":true},"axis":null}}},
{"mark":{"type":"rule","color":"#333333"},"encoding":{"x":{"datum":1.53,"type":"quantitative","scale":{"domain":[0,4]},"axis":null},"x2":{"datum":1.6},"y":{"datum":68,"type":"quantitative","scale":{"domain":[0,72],"reverse":true},"axis":null}}},
{"mark":{"type":"rule","color":"#333333"},"encoding":{"x":{"datum":1.44,"type":"quantitative","scale":{"domain":[0,4]},"axis":null},"x2":{"datum":1.53},"y":{"datum":45.5,"type":"quantitative","scale":{"domain":[0,72],"reverse":true},"axis":null}}},
{"mark":{"type":"text","align":"left","fontSize":9.5},"encoding":{"x":{"datum":1.76,"type":"quantitative","scale":{"domain":[0,4]},"axis":null},"y":{"datum":31,"type":"quantitative","scale":{"domain":[0,72],"reverse":true},"axis":null},"text":{"field":"L"}}},
{"mark":{"type":"text","align":"left","fontSize":9.5},"encoding":{"x":{"datum":1.76,"type":"quantitative","scale":{"domain":[0,4]},"axis":null},"y":{"datum":46,"type":"quantitative","scale":{"domain":[0,72],"reverse":true},"axis":null},"text":{"field":"E"}}},
{"mark":{"type":"text","align":"left","fontSize":9.5},"encoding":{"x":{"datum":1.76,"type":"quantitative","scale":{"domain":[0,4]},"axis":null},"y":{"datum":60,"type":"quantitative","scale":{"domain":[0,72],"reverse":true},"axis":null},"text":{"field":"LE"}}}
]},
{"width":31,"height":72,"data":{"values":[{"blank":1}]},"mark":{"type":"point","opacity":0}},
{"width":184,"height":72,"data":{"name":"deltas"},"transform":[{"filter":"datum.clone == 'B2'"}],"resolve":{"scale":{"x":"independent"}},"layer":[
{"data":{"name":"brackets"},"mark":{"type":"rule","strokeWidth":1.2},"encoding":{"x":{"field":"start","type":"quantitative","scale":{"domain":[0,4]},"axis":null},"x2":{"field":"end"},"y":{"datum":2.5,"type":"quantitative","scale":{"domain":[0,72],"reverse":true},"axis":null}}},
{"data":{"name":"brackets"},"mark":{"type":"rule","strokeWidth":1.2},"encoding":{"x":{"field":"start","type":"quantitative","scale":{"domain":[0,4]},"axis":null},"y":{"datum":0,"type":"quantitative","scale":{"domain":[0,72],"reverse":true},"axis":null},"y2":{"datum":2.5}}},
{"data":{"name":"brackets"},"mark":{"type":"rule","strokeWidth":1.2},"encoding":{"x":{"field":"end","type":"quantitative","scale":{"domain":[0,4]},"axis":null},"y":{"datum":0,"type":"quantitative","scale":{"domain":[0,72],"reverse":true},"axis":null},"y2":{"datum":2.5}}},
{"data":{"name":"brackets"},"mark":{"type":"rule","strokeWidth":1.2},"encoding":{"x":{"field":"mid","type":"quantitative","scale":{"domain":[0,4]},"axis":null},"y":{"datum":2.5,"type":"quantitative","scale":{"domain":[0,72],"reverse":true},"axis":null},"y2":{"datum":5.5}}},
{"data":{"name":"brackets"},"mark":{"type":"text","fontSize":11},"encoding":{"x":{"field":"mid","type":"quantitative","scale":{"domain":[0,4]},"axis":null},"y":{"datum":15,"type":"quantitative","scale":{"domain":[0,72],"reverse":true},"axis":null},"text":{"field":"label"}}},
{"data":{"name":"phases"},"mark":{"type":"bar","stroke":"#222222","strokeWidth":0.8},"encoding":{"x":{"field":"phase","type":"nominal","scale":{"domain":["S1","S2","S3","S4","_5","_6","_7","_8","_9","_10","_11","_12","_13"],"paddingInner":0.43,"paddingOuter":1,"align":0.4},"axis":null},"y":{"datum":30,"type":"quantitative","scale":{"domain":[0,72],"reverse":true},"axis":null},"y2":{"datum":41},"color":{"field":"phase","type":"nominal","legend":null}}},
{"data":{"name":"phases"},"mark":{"type":"text","fontSize":9},"encoding":{"x":{"field":"phase","type":"nominal","scale":{"domain":["S1","S2","S3","S4","_5","_6","_7","_8","_9","_10","_11","_12","_13"],"paddingInner":0.43,"paddingOuter":1,"align":0.4},"axis":null},"y":{"datum":53,"type":"quantitative","scale":{"domain":[0,72],"reverse":true},"axis":null},"text":{"field":"phase"}}},
{"mark":{"type":"rule","color":"#333333"},"encoding":{"x":{"datum":1.54,"type":"quantitative","scale":{"domain":[0,4]},"axis":null},"y":{"datum":23,"type":"quantitative","scale":{"domain":[0,72],"reverse":true},"axis":null},"y2":{"datum":68}}},
{"mark":{"type":"rule","color":"#333333"},"encoding":{"x":{"datum":1.54,"type":"quantitative","scale":{"domain":[0,4]},"axis":null},"x2":{"datum":1.61},"y":{"datum":23,"type":"quantitative","scale":{"domain":[0,72],"reverse":true},"axis":null}}},
{"mark":{"type":"rule","color":"#333333"},"encoding":{"x":{"datum":1.54,"type":"quantitative","scale":{"domain":[0,4]},"axis":null},"x2":{"datum":1.61},"y":{"datum":68,"type":"quantitative","scale":{"domain":[0,72],"reverse":true},"axis":null}}},
{"mark":{"type":"rule","color":"#333333"},"encoding":{"x":{"datum":1.45,"type":"quantitative","scale":{"domain":[0,4]},"axis":null},"x2":{"datum":1.54},"y":{"datum":45.5,"type":"quantitative","scale":{"domain":[0,72],"reverse":true},"axis":null}}},
{"mark":{"type":"text","align":"left","fontSize":9.5},"encoding":{"x":{"datum":1.74,"type":"quantitative","scale":{"domain":[0,4]},"axis":null},"y":{"datum":31,"type":"quantitative","scale":{"domain":[0,72],"reverse":true},"axis":null},"text":{"field":"L"}}},
{"mark":{"type":"text","align":"left","fontSize":9.5},"encoding":{"x":{"datum":1.74,"type":"quantitative","scale":{"domain":[0,4]},"axis":null},"y":{"datum":46,"type":"quantitative","scale":{"domain":[0,72],"reverse":true},"axis":null},"text":{"field":"E"}}},
{"mark":{"type":"text","align":"left","fontSize":9.5},"encoding":{"x":{"datum":1.74,"type":"quantitative","scale":{"domain":[0,4]},"axis":null},"y":{"datum":60,"type":"quantitative","scale":{"domain":[0,72],"reverse":true},"axis":null},"text":{"field":"LE"}}}
]}
]}
]
}
